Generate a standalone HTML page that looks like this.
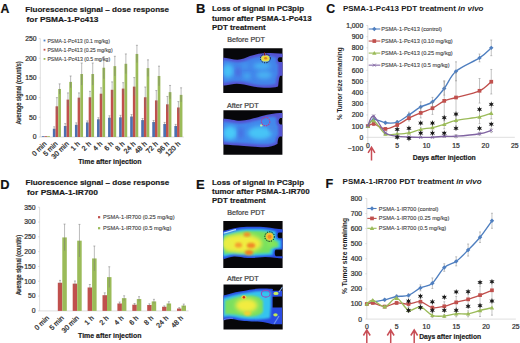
<!DOCTYPE html>
<html><head><meta charset="utf-8"><style>
html,body{margin:0;padding:0;background:#fff;overflow:hidden;width:520px;height:343px;}
svg{display:block;font-family:"Liberation Sans", sans-serif;}
</style></head><body>
<svg width="520" height="343" viewBox="0 0 520 343">
<defs>
<filter id="b1" x="-20%" y="-20%" width="140%" height="140%"><feGaussianBlur stdDeviation="1.2"/></filter>
<filter id="b2" x="-30%" y="-30%" width="160%" height="160%"><feGaussianBlur stdDeviation="2.2"/></filter>
<filter id="b05" x="-20%" y="-20%" width="140%" height="140%"><feGaussianBlur stdDeviation="0.6"/></filter>
<clipPath id="cB1"><rect x="223.3" y="48.3" width="59.2" height="44.6"/></clipPath>
<clipPath id="cB2"><rect x="223.4" y="110.2" width="59" height="44.5"/></clipPath>
<clipPath id="cE1"><rect x="223.3" y="221.1" width="59.3" height="46.8"/></clipPath>
<clipPath id="cE2"><rect x="223.5" y="284.5" width="59.2" height="45.1"/></clipPath>
</defs>
<text x="0.4" y="12.9" font-size="12.3" font-weight="bold" fill="#111" stroke="#111" stroke-width="0.18">A</text>
<text x="25.3" y="11.6" font-size="8" font-weight="bold" textLength="143.8" lengthAdjust="spacingAndGlyphs" fill="#1a1a1a" stroke="#1a1a1a" stroke-width="0.18">Fluorescence signal – dose  response</text>
<text x="26.5" y="21.5" font-size="8" font-weight="bold" textLength="72" lengthAdjust="spacingAndGlyphs" fill="#1a1a1a" stroke="#1a1a1a" stroke-width="0.18">for PSMA-1-Pc413</text>
<line x1="40.3" y1="38.599999999999994" x2="40.3" y2="137.0" stroke="#c8c8c8" stroke-width="0.6"/>
<line x1="40.3" y1="137.0" x2="183.9" y2="137.0" stroke="#c8c8c8" stroke-width="0.6"/>
<text x="36.6" y="139.4" font-size="6.8" text-anchor="end" fill="#333" stroke="#333" stroke-width="0.24">0</text>
<line x1="38.8" y1="137.0" x2="40.3" y2="137.0" stroke="#c8c8c8" stroke-width="0.6"/>
<text x="36.6" y="119.72" font-size="6.8" text-anchor="end" fill="#333" stroke="#333" stroke-width="0.24">50</text>
<line x1="38.8" y1="117.32" x2="40.3" y2="117.32" stroke="#c8c8c8" stroke-width="0.6"/>
<text x="36.6" y="100.04" font-size="6.8" text-anchor="end" fill="#333" stroke="#333" stroke-width="0.24">100</text>
<line x1="38.8" y1="97.64" x2="40.3" y2="97.64" stroke="#c8c8c8" stroke-width="0.6"/>
<text x="36.6" y="80.36" font-size="6.8" text-anchor="end" fill="#333" stroke="#333" stroke-width="0.24">150</text>
<line x1="38.8" y1="77.96000000000001" x2="40.3" y2="77.96000000000001" stroke="#c8c8c8" stroke-width="0.6"/>
<text x="36.6" y="60.68" font-size="6.8" text-anchor="end" fill="#333" stroke="#333" stroke-width="0.24">200</text>
<line x1="38.8" y1="58.28" x2="40.3" y2="58.28" stroke="#c8c8c8" stroke-width="0.6"/>
<text x="36.6" y="41.0" font-size="6.8" text-anchor="end" fill="#333" stroke="#333" stroke-width="0.24">250</text>
<line x1="38.8" y1="38.599999999999994" x2="40.3" y2="38.599999999999994" stroke="#c8c8c8" stroke-width="0.6"/>
<rect x="41.80" y="136.21" width="2.7" height="0.79" fill="#4c70b0"/>
<rect x="44.50" y="136.21" width="2.7" height="0.79" fill="#c0504d"/>
<rect x="47.20" y="136.21" width="2.7" height="0.79" fill="#9bbb59"/>
<text x="46.92" y="144.30" font-size="7" fill="#333" stroke="#333" stroke-width="0.3" text-anchor="end" transform="rotate(-45 46.92 144.30)">0 min</text>
<rect x="52.85" y="128.73" width="2.7" height="8.27" fill="#4c70b0"/>
<line x1="54.20" y1="126.77" x2="54.20" y2="130.70" stroke="#777" stroke-width="0.5"/>
<line x1="53.20" y1="126.77" x2="55.20" y2="126.77" stroke="#777" stroke-width="0.5"/>
<rect x="55.55" y="106.30" width="2.7" height="30.70" fill="#c0504d"/>
<line x1="56.90" y1="97.64" x2="56.90" y2="114.96" stroke="#777" stroke-width="0.5"/>
<line x1="55.90" y1="97.64" x2="57.90" y2="97.64" stroke="#777" stroke-width="0.5"/>
<rect x="58.25" y="88.98" width="2.7" height="48.02" fill="#9bbb59"/>
<line x1="59.60" y1="83.86" x2="59.60" y2="94.10" stroke="#777" stroke-width="0.5"/>
<line x1="58.60" y1="83.86" x2="60.60" y2="83.86" stroke="#777" stroke-width="0.5"/>
<text x="58.07" y="144.30" font-size="7" fill="#333" stroke="#333" stroke-width="0.3" text-anchor="end" transform="rotate(-45 58.07 144.30)">5 min</text>
<rect x="63.89" y="125.98" width="2.7" height="11.02" fill="#4c70b0"/>
<line x1="65.24" y1="123.62" x2="65.24" y2="128.34" stroke="#777" stroke-width="0.5"/>
<line x1="64.24" y1="123.62" x2="66.24" y2="123.62" stroke="#777" stroke-width="0.5"/>
<rect x="66.59" y="99.61" width="2.7" height="37.39" fill="#c0504d"/>
<line x1="67.94" y1="92.92" x2="67.94" y2="106.30" stroke="#777" stroke-width="0.5"/>
<line x1="66.94" y1="92.92" x2="68.94" y2="92.92" stroke="#777" stroke-width="0.5"/>
<rect x="69.29" y="81.90" width="2.7" height="55.10" fill="#9bbb59"/>
<line x1="70.64" y1="75.99" x2="70.64" y2="87.80" stroke="#777" stroke-width="0.5"/>
<line x1="69.64" y1="75.99" x2="71.64" y2="75.99" stroke="#777" stroke-width="0.5"/>
<text x="69.22" y="144.30" font-size="7" fill="#333" stroke="#333" stroke-width="0.3" text-anchor="end" transform="rotate(-45 69.22 144.30)">30 min</text>
<rect x="74.94" y="124.80" width="2.7" height="12.20" fill="#4c70b0"/>
<line x1="76.29" y1="122.83" x2="76.29" y2="126.77" stroke="#777" stroke-width="0.5"/>
<line x1="75.29" y1="122.83" x2="77.29" y2="122.83" stroke="#777" stroke-width="0.5"/>
<rect x="77.64" y="97.64" width="2.7" height="39.36" fill="#c0504d"/>
<line x1="78.99" y1="92.92" x2="78.99" y2="102.36" stroke="#777" stroke-width="0.5"/>
<line x1="77.99" y1="92.92" x2="79.99" y2="92.92" stroke="#777" stroke-width="0.5"/>
<rect x="80.34" y="74.02" width="2.7" height="62.98" fill="#9bbb59"/>
<line x1="81.69" y1="63.00" x2="81.69" y2="85.04" stroke="#777" stroke-width="0.5"/>
<line x1="80.69" y1="63.00" x2="82.69" y2="63.00" stroke="#777" stroke-width="0.5"/>
<text x="80.36" y="144.30" font-size="7" fill="#333" stroke="#333" stroke-width="0.3" text-anchor="end" transform="rotate(-45 80.36 144.30)">1 h</text>
<rect x="85.98" y="122.44" width="2.7" height="14.56" fill="#4c70b0"/>
<line x1="87.33" y1="120.86" x2="87.33" y2="124.01" stroke="#777" stroke-width="0.5"/>
<line x1="86.33" y1="120.86" x2="88.33" y2="120.86" stroke="#777" stroke-width="0.5"/>
<rect x="88.68" y="97.25" width="2.7" height="39.75" fill="#c0504d"/>
<line x1="90.03" y1="91.34" x2="90.03" y2="103.15" stroke="#777" stroke-width="0.5"/>
<line x1="89.03" y1="91.34" x2="91.03" y2="91.34" stroke="#777" stroke-width="0.5"/>
<rect x="91.38" y="74.02" width="2.7" height="62.98" fill="#9bbb59"/>
<line x1="92.73" y1="63.00" x2="92.73" y2="85.04" stroke="#777" stroke-width="0.5"/>
<line x1="91.73" y1="63.00" x2="93.73" y2="63.00" stroke="#777" stroke-width="0.5"/>
<text x="91.51" y="144.30" font-size="7" fill="#333" stroke="#333" stroke-width="0.3" text-anchor="end" transform="rotate(-45 91.51 144.30)">2 h</text>
<rect x="97.03" y="119.29" width="2.7" height="17.71" fill="#4c70b0"/>
<line x1="98.38" y1="117.71" x2="98.38" y2="120.86" stroke="#777" stroke-width="0.5"/>
<line x1="97.38" y1="117.71" x2="99.38" y2="117.71" stroke="#777" stroke-width="0.5"/>
<rect x="99.73" y="93.70" width="2.7" height="43.30" fill="#c0504d"/>
<line x1="101.08" y1="87.80" x2="101.08" y2="99.61" stroke="#777" stroke-width="0.5"/>
<line x1="100.08" y1="87.80" x2="102.08" y2="87.80" stroke="#777" stroke-width="0.5"/>
<rect x="102.43" y="67.73" width="2.7" height="69.27" fill="#9bbb59"/>
<line x1="103.78" y1="56.71" x2="103.78" y2="78.75" stroke="#777" stroke-width="0.5"/>
<line x1="102.78" y1="56.71" x2="104.78" y2="56.71" stroke="#777" stroke-width="0.5"/>
<text x="102.65" y="144.30" font-size="7" fill="#333" stroke="#333" stroke-width="0.3" text-anchor="end" transform="rotate(-45 102.65 144.30)">4 h</text>
<rect x="108.08" y="117.71" width="2.7" height="19.29" fill="#4c70b0"/>
<line x1="109.43" y1="115.75" x2="109.43" y2="119.68" stroke="#777" stroke-width="0.5"/>
<line x1="108.43" y1="115.75" x2="110.43" y2="115.75" stroke="#777" stroke-width="0.5"/>
<rect x="110.78" y="89.77" width="2.7" height="47.23" fill="#c0504d"/>
<line x1="112.13" y1="81.90" x2="112.13" y2="97.64" stroke="#777" stroke-width="0.5"/>
<line x1="111.13" y1="81.90" x2="113.13" y2="81.90" stroke="#777" stroke-width="0.5"/>
<rect x="113.48" y="66.15" width="2.7" height="70.85" fill="#9bbb59"/>
<line x1="114.83" y1="56.31" x2="114.83" y2="75.99" stroke="#777" stroke-width="0.5"/>
<line x1="113.83" y1="56.31" x2="115.83" y2="56.31" stroke="#777" stroke-width="0.5"/>
<text x="113.80" y="144.30" font-size="7" fill="#333" stroke="#333" stroke-width="0.3" text-anchor="end" transform="rotate(-45 113.80 144.30)">6 h</text>
<rect x="119.12" y="117.32" width="2.7" height="19.68" fill="#4c70b0"/>
<line x1="120.47" y1="115.35" x2="120.47" y2="119.29" stroke="#777" stroke-width="0.5"/>
<line x1="119.47" y1="115.35" x2="121.47" y2="115.35" stroke="#777" stroke-width="0.5"/>
<rect x="121.82" y="88.59" width="2.7" height="48.41" fill="#c0504d"/>
<line x1="123.17" y1="82.68" x2="123.17" y2="94.49" stroke="#777" stroke-width="0.5"/>
<line x1="122.17" y1="82.68" x2="124.17" y2="82.68" stroke="#777" stroke-width="0.5"/>
<rect x="124.52" y="63.79" width="2.7" height="73.21" fill="#9bbb59"/>
<line x1="125.87" y1="53.95" x2="125.87" y2="73.63" stroke="#777" stroke-width="0.5"/>
<line x1="124.87" y1="53.95" x2="126.87" y2="53.95" stroke="#777" stroke-width="0.5"/>
<text x="124.95" y="144.30" font-size="7" fill="#333" stroke="#333" stroke-width="0.3" text-anchor="end" transform="rotate(-45 124.95 144.30)">8 h</text>
<rect x="130.17" y="116.53" width="2.7" height="20.47" fill="#4c70b0"/>
<line x1="131.52" y1="114.56" x2="131.52" y2="118.50" stroke="#777" stroke-width="0.5"/>
<line x1="130.52" y1="114.56" x2="132.52" y2="114.56" stroke="#777" stroke-width="0.5"/>
<rect x="132.87" y="86.62" width="2.7" height="50.38" fill="#c0504d"/>
<line x1="134.22" y1="77.57" x2="134.22" y2="95.67" stroke="#777" stroke-width="0.5"/>
<line x1="133.22" y1="77.57" x2="135.22" y2="77.57" stroke="#777" stroke-width="0.5"/>
<rect x="135.57" y="53.95" width="2.7" height="83.05" fill="#9bbb59"/>
<line x1="136.92" y1="45.29" x2="136.92" y2="62.61" stroke="#777" stroke-width="0.5"/>
<line x1="135.92" y1="45.29" x2="137.92" y2="45.29" stroke="#777" stroke-width="0.5"/>
<text x="136.09" y="144.30" font-size="7" fill="#333" stroke="#333" stroke-width="0.3" text-anchor="end" transform="rotate(-45 136.09 144.30)">24 h</text>
<rect x="141.22" y="120.08" width="2.7" height="16.92" fill="#4c70b0"/>
<line x1="142.57" y1="118.50" x2="142.57" y2="121.65" stroke="#777" stroke-width="0.5"/>
<line x1="141.57" y1="118.50" x2="143.57" y2="118.50" stroke="#777" stroke-width="0.5"/>
<rect x="143.92" y="97.25" width="2.7" height="39.75" fill="#c0504d"/>
<line x1="145.27" y1="87.01" x2="145.27" y2="107.48" stroke="#777" stroke-width="0.5"/>
<line x1="144.27" y1="87.01" x2="146.27" y2="87.01" stroke="#777" stroke-width="0.5"/>
<rect x="146.62" y="68.12" width="2.7" height="68.88" fill="#9bbb59"/>
<line x1="147.97" y1="59.85" x2="147.97" y2="76.39" stroke="#777" stroke-width="0.5"/>
<line x1="146.97" y1="59.85" x2="148.97" y2="59.85" stroke="#777" stroke-width="0.5"/>
<text x="147.24" y="144.30" font-size="7" fill="#333" stroke="#333" stroke-width="0.3" text-anchor="end" transform="rotate(-45 147.24 144.30)">48 h</text>
<rect x="152.26" y="122.04" width="2.7" height="14.96" fill="#4c70b0"/>
<line x1="153.61" y1="120.47" x2="153.61" y2="123.62" stroke="#777" stroke-width="0.5"/>
<line x1="152.61" y1="120.47" x2="154.61" y2="120.47" stroke="#777" stroke-width="0.5"/>
<rect x="154.96" y="100.40" width="2.7" height="36.60" fill="#c0504d"/>
<line x1="156.31" y1="90.56" x2="156.31" y2="110.24" stroke="#777" stroke-width="0.5"/>
<line x1="155.31" y1="90.56" x2="157.31" y2="90.56" stroke="#777" stroke-width="0.5"/>
<rect x="157.66" y="75.99" width="2.7" height="61.01" fill="#9bbb59"/>
<line x1="159.01" y1="66.15" x2="159.01" y2="85.83" stroke="#777" stroke-width="0.5"/>
<line x1="158.01" y1="66.15" x2="160.01" y2="66.15" stroke="#777" stroke-width="0.5"/>
<text x="158.38" y="144.30" font-size="7" fill="#333" stroke="#333" stroke-width="0.3" text-anchor="end" transform="rotate(-45 158.38 144.30)">72 h</text>
<rect x="163.31" y="124.01" width="2.7" height="12.99" fill="#4c70b0"/>
<line x1="164.66" y1="122.44" x2="164.66" y2="125.59" stroke="#777" stroke-width="0.5"/>
<line x1="163.66" y1="122.44" x2="165.66" y2="122.44" stroke="#777" stroke-width="0.5"/>
<rect x="166.01" y="104.33" width="2.7" height="32.67" fill="#c0504d"/>
<line x1="167.36" y1="96.46" x2="167.36" y2="112.20" stroke="#777" stroke-width="0.5"/>
<line x1="166.36" y1="96.46" x2="168.36" y2="96.46" stroke="#777" stroke-width="0.5"/>
<rect x="168.71" y="92.13" width="2.7" height="44.87" fill="#9bbb59"/>
<line x1="170.06" y1="85.44" x2="170.06" y2="98.82" stroke="#777" stroke-width="0.5"/>
<line x1="169.06" y1="85.44" x2="171.06" y2="85.44" stroke="#777" stroke-width="0.5"/>
<text x="169.53" y="144.30" font-size="7" fill="#333" stroke="#333" stroke-width="0.3" text-anchor="end" transform="rotate(-45 169.53 144.30)">96 h</text>
<rect x="174.35" y="125.98" width="2.7" height="11.02" fill="#4c70b0"/>
<line x1="175.70" y1="124.40" x2="175.70" y2="127.55" stroke="#777" stroke-width="0.5"/>
<line x1="174.70" y1="124.40" x2="176.70" y2="124.40" stroke="#777" stroke-width="0.5"/>
<rect x="177.05" y="107.48" width="2.7" height="29.52" fill="#c0504d"/>
<line x1="178.40" y1="101.58" x2="178.40" y2="113.38" stroke="#777" stroke-width="0.5"/>
<line x1="177.40" y1="101.58" x2="179.40" y2="101.58" stroke="#777" stroke-width="0.5"/>
<rect x="179.75" y="94.88" width="2.7" height="42.12" fill="#9bbb59"/>
<line x1="181.10" y1="87.80" x2="181.10" y2="101.97" stroke="#777" stroke-width="0.5"/>
<line x1="180.10" y1="87.80" x2="182.10" y2="87.80" stroke="#777" stroke-width="0.5"/>
<text x="180.68" y="144.30" font-size="7" fill="#333" stroke="#333" stroke-width="0.3" text-anchor="end" transform="rotate(-45 180.68 144.30)">120 h</text>
<text x="0" y="0" font-size="6.3" fill="#333" stroke="#333" stroke-width="0.3" textLength="62.8" lengthAdjust="spacingAndGlyphs" text-anchor="middle" transform="translate(21.0 92.8) rotate(-90)">Average signal (count/s)</text>
<text x="78.2" y="163.5" font-size="6.9" font-weight="bold" textLength="63.4" lengthAdjust="spacingAndGlyphs" fill="#1a1a1a" stroke="#1a1a1a" stroke-width="0.18">Time after injection</text>
<rect x="43.6" y="39.6" width="1.8" height="1.8" fill="#4f7fc0"/>
<text x="47.4" y="42.5" font-size="5.4" textLength="62.5" lengthAdjust="spacingAndGlyphs" fill="#444" stroke="#444" stroke-width="0.12">PSMA-1-Pc413 (0.1 mg/kg)</text>
<rect x="43.6" y="48.800000000000004" width="1.8" height="1.8" fill="#c0504d"/>
<text x="47.4" y="51.7" font-size="5.4" textLength="65.2" lengthAdjust="spacingAndGlyphs" fill="#444" stroke="#444" stroke-width="0.12">PSMA-1-Pc413 (0.25 mg/kg)</text>
<rect x="43.6" y="58.0" width="1.8" height="1.8" fill="#9bbb59"/>
<text x="47.4" y="60.9" font-size="5.4" textLength="62.8" lengthAdjust="spacingAndGlyphs" fill="#444" stroke="#444" stroke-width="0.12">PSMA-1-Pc413 (0.5 mg/kg)</text>
<text x="0.3" y="188.5" font-size="12.8" font-weight="bold" fill="#111" stroke="#111" stroke-width="0.18">D</text>
<text x="25.5" y="184.7" font-size="8" font-weight="bold" textLength="143.8" lengthAdjust="spacingAndGlyphs" fill="#1a1a1a" stroke="#1a1a1a" stroke-width="0.18">Fluorescence signal – dose  response</text>
<text x="27.0" y="194.6" font-size="8" font-weight="bold" textLength="71" lengthAdjust="spacingAndGlyphs" fill="#1a1a1a" stroke="#1a1a1a" stroke-width="0.18">for PSMA-1-IR700</text>
<line x1="39.6" y1="207.195" x2="39.6" y2="310.9" stroke="#c8c8c8" stroke-width="0.6"/>
<line x1="39.6" y1="310.9" x2="188.6" y2="310.9" stroke="#c8c8c8" stroke-width="0.6"/>
<text x="35.6" y="313.3" font-size="6.8" text-anchor="end" fill="#333" stroke="#333" stroke-width="0.24">0</text>
<line x1="38.1" y1="310.9" x2="39.6" y2="310.9" stroke="#c8c8c8" stroke-width="0.6"/>
<text x="35.6" y="298.48" font-size="6.8" text-anchor="end" fill="#333" stroke="#333" stroke-width="0.24">50</text>
<line x1="38.1" y1="296.085" x2="39.6" y2="296.085" stroke="#c8c8c8" stroke-width="0.6"/>
<text x="35.6" y="283.67" font-size="6.8" text-anchor="end" fill="#333" stroke="#333" stroke-width="0.24">100</text>
<line x1="38.1" y1="281.27" x2="39.6" y2="281.27" stroke="#c8c8c8" stroke-width="0.6"/>
<text x="35.6" y="268.85" font-size="6.8" text-anchor="end" fill="#333" stroke="#333" stroke-width="0.24">150</text>
<line x1="38.1" y1="266.455" x2="39.6" y2="266.455" stroke="#c8c8c8" stroke-width="0.6"/>
<text x="35.6" y="254.04" font-size="6.8" text-anchor="end" fill="#333" stroke="#333" stroke-width="0.24">200</text>
<line x1="38.1" y1="251.64" x2="39.6" y2="251.64" stroke="#c8c8c8" stroke-width="0.6"/>
<text x="35.6" y="239.22" font-size="6.8" text-anchor="end" fill="#333" stroke="#333" stroke-width="0.24">250</text>
<line x1="38.1" y1="236.825" x2="39.6" y2="236.825" stroke="#c8c8c8" stroke-width="0.6"/>
<text x="35.6" y="224.41" font-size="6.8" text-anchor="end" fill="#333" stroke="#333" stroke-width="0.24">300</text>
<line x1="38.1" y1="222.01" x2="39.6" y2="222.01" stroke="#c8c8c8" stroke-width="0.6"/>
<text x="35.6" y="209.59" font-size="6.8" text-anchor="end" fill="#333" stroke="#333" stroke-width="0.24">350</text>
<line x1="38.1" y1="207.195" x2="39.6" y2="207.195" stroke="#c8c8c8" stroke-width="0.6"/>
<rect x="42.90" y="310.90" width="4.5" height="0.00" fill="#c0504d"/>
<rect x="47.40" y="310.90" width="4.5" height="0.00" fill="#9bbb59"/>
<text x="49.45" y="318.50" font-size="7" fill="#333" stroke="#333" stroke-width="0.3" text-anchor="end" transform="rotate(-45 49.45 318.50)">0 min</text>
<rect x="57.80" y="282.75" width="4.5" height="28.15" fill="#c0504d"/>
<line x1="60.05" y1="280.38" x2="60.05" y2="285.12" stroke="#777" stroke-width="0.5"/>
<line x1="59.05" y1="280.38" x2="61.05" y2="280.38" stroke="#777" stroke-width="0.5"/>
<rect x="62.30" y="237.42" width="4.5" height="73.48" fill="#9bbb59"/>
<line x1="64.55" y1="224.08" x2="64.55" y2="250.75" stroke="#777" stroke-width="0.5"/>
<line x1="63.55" y1="224.08" x2="65.55" y2="224.08" stroke="#777" stroke-width="0.5"/>
<text x="64.35" y="318.50" font-size="7" fill="#333" stroke="#333" stroke-width="0.3" text-anchor="end" transform="rotate(-45 64.35 318.50)">5 min</text>
<rect x="72.70" y="283.64" width="4.5" height="27.26" fill="#c0504d"/>
<line x1="74.95" y1="280.97" x2="74.95" y2="286.31" stroke="#777" stroke-width="0.5"/>
<line x1="73.95" y1="280.97" x2="75.95" y2="280.97" stroke="#777" stroke-width="0.5"/>
<rect x="77.20" y="240.68" width="4.5" height="70.22" fill="#9bbb59"/>
<line x1="79.45" y1="224.38" x2="79.45" y2="256.97" stroke="#777" stroke-width="0.5"/>
<line x1="78.45" y1="224.38" x2="80.45" y2="224.38" stroke="#777" stroke-width="0.5"/>
<text x="79.25" y="318.50" font-size="7" fill="#333" stroke="#333" stroke-width="0.3" text-anchor="end" transform="rotate(-45 79.25 318.50)">30 min</text>
<rect x="87.60" y="287.49" width="4.5" height="23.41" fill="#c0504d"/>
<line x1="89.85" y1="284.53" x2="89.85" y2="290.46" stroke="#777" stroke-width="0.5"/>
<line x1="88.85" y1="284.53" x2="90.85" y2="284.53" stroke="#777" stroke-width="0.5"/>
<rect x="92.10" y="258.45" width="4.5" height="52.45" fill="#9bbb59"/>
<line x1="94.35" y1="246.01" x2="94.35" y2="270.90" stroke="#777" stroke-width="0.5"/>
<line x1="93.35" y1="246.01" x2="95.35" y2="246.01" stroke="#777" stroke-width="0.5"/>
<text x="94.15" y="318.50" font-size="7" fill="#333" stroke="#333" stroke-width="0.3" text-anchor="end" transform="rotate(-45 94.15 318.50)">1 h</text>
<rect x="102.50" y="295.20" width="4.5" height="15.70" fill="#c0504d"/>
<line x1="104.75" y1="292.83" x2="104.75" y2="297.57" stroke="#777" stroke-width="0.5"/>
<line x1="103.75" y1="292.83" x2="105.75" y2="292.83" stroke="#777" stroke-width="0.5"/>
<rect x="107.00" y="277.12" width="4.5" height="33.78" fill="#9bbb59"/>
<line x1="109.25" y1="266.75" x2="109.25" y2="287.49" stroke="#777" stroke-width="0.5"/>
<line x1="108.25" y1="266.75" x2="110.25" y2="266.75" stroke="#777" stroke-width="0.5"/>
<text x="109.05" y="318.50" font-size="7" fill="#333" stroke="#333" stroke-width="0.3" text-anchor="end" transform="rotate(-45 109.05 318.50)">2 h</text>
<rect x="117.40" y="303.49" width="4.5" height="7.41" fill="#c0504d"/>
<line x1="119.65" y1="302.01" x2="119.65" y2="304.97" stroke="#777" stroke-width="0.5"/>
<line x1="118.65" y1="302.01" x2="120.65" y2="302.01" stroke="#777" stroke-width="0.5"/>
<rect x="121.90" y="298.16" width="4.5" height="12.74" fill="#9bbb59"/>
<line x1="124.15" y1="295.79" x2="124.15" y2="300.53" stroke="#777" stroke-width="0.5"/>
<line x1="123.15" y1="295.79" x2="125.15" y2="295.79" stroke="#777" stroke-width="0.5"/>
<text x="123.95" y="318.50" font-size="7" fill="#333" stroke="#333" stroke-width="0.3" text-anchor="end" transform="rotate(-45 123.95 318.50)">4 h</text>
<rect x="132.30" y="304.68" width="4.5" height="6.22" fill="#c0504d"/>
<line x1="134.55" y1="303.49" x2="134.55" y2="305.86" stroke="#777" stroke-width="0.5"/>
<line x1="133.55" y1="303.49" x2="135.55" y2="303.49" stroke="#777" stroke-width="0.5"/>
<rect x="136.80" y="299.05" width="4.5" height="11.85" fill="#9bbb59"/>
<line x1="139.05" y1="296.68" x2="139.05" y2="301.42" stroke="#777" stroke-width="0.5"/>
<line x1="138.05" y1="296.68" x2="140.05" y2="296.68" stroke="#777" stroke-width="0.5"/>
<text x="138.85" y="318.50" font-size="7" fill="#333" stroke="#333" stroke-width="0.3" text-anchor="end" transform="rotate(-45 138.85 318.50)">6 h</text>
<rect x="147.20" y="304.97" width="4.5" height="5.93" fill="#c0504d"/>
<line x1="149.45" y1="303.79" x2="149.45" y2="306.16" stroke="#777" stroke-width="0.5"/>
<line x1="148.45" y1="303.79" x2="150.45" y2="303.79" stroke="#777" stroke-width="0.5"/>
<rect x="151.70" y="301.42" width="4.5" height="9.48" fill="#9bbb59"/>
<line x1="153.95" y1="299.34" x2="153.95" y2="303.49" stroke="#777" stroke-width="0.5"/>
<line x1="152.95" y1="299.34" x2="154.95" y2="299.34" stroke="#777" stroke-width="0.5"/>
<text x="153.75" y="318.50" font-size="7" fill="#333" stroke="#333" stroke-width="0.3" text-anchor="end" transform="rotate(-45 153.75 318.50)">8 h</text>
<rect x="162.10" y="306.75" width="4.5" height="4.15" fill="#c0504d"/>
<line x1="164.35" y1="305.86" x2="164.35" y2="307.64" stroke="#777" stroke-width="0.5"/>
<line x1="163.35" y1="305.86" x2="165.35" y2="305.86" stroke="#777" stroke-width="0.5"/>
<rect x="166.60" y="303.49" width="4.5" height="7.41" fill="#9bbb59"/>
<line x1="168.85" y1="301.71" x2="168.85" y2="305.27" stroke="#777" stroke-width="0.5"/>
<line x1="167.85" y1="301.71" x2="169.85" y2="301.71" stroke="#777" stroke-width="0.5"/>
<text x="168.65" y="318.50" font-size="7" fill="#333" stroke="#333" stroke-width="0.3" text-anchor="end" transform="rotate(-45 168.65 318.50)">24 h</text>
<rect x="177.00" y="308.53" width="4.5" height="2.37" fill="#c0504d"/>
<line x1="179.25" y1="307.64" x2="179.25" y2="309.42" stroke="#777" stroke-width="0.5"/>
<line x1="178.25" y1="307.64" x2="180.25" y2="307.64" stroke="#777" stroke-width="0.5"/>
<rect x="181.50" y="305.57" width="4.5" height="5.33" fill="#9bbb59"/>
<line x1="183.75" y1="304.09" x2="183.75" y2="307.05" stroke="#777" stroke-width="0.5"/>
<line x1="182.75" y1="304.09" x2="184.75" y2="304.09" stroke="#777" stroke-width="0.5"/>
<text x="183.55" y="318.50" font-size="7" fill="#333" stroke="#333" stroke-width="0.3" text-anchor="end" transform="rotate(-45 183.55 318.50)">48 h</text>
<text x="0" y="0" font-size="6.3" fill="#333" stroke="#333" stroke-width="0.3" textLength="60" lengthAdjust="spacingAndGlyphs" text-anchor="middle" transform="translate(21.0 265) rotate(-90)">Average signal (count/s)</text>
<text x="78.1" y="337.7" font-size="6.9" font-weight="bold" textLength="63.4" lengthAdjust="spacingAndGlyphs" fill="#1a1a1a" stroke="#1a1a1a" stroke-width="0.18">Time after injection</text>
<rect x="98.0" y="216.1" width="2.2" height="2.2" fill="#c0504d"/>
<text x="103.0" y="219.2" font-size="5.7" textLength="71.6" lengthAdjust="spacingAndGlyphs" fill="#444" stroke="#444" stroke-width="0.12">PSMA-1-IR700 (0.25 mg/kg)</text>
<rect x="98.0" y="227.1" width="2.2" height="2.2" fill="#9bbb59"/>
<text x="103.0" y="230.2" font-size="5.7" textLength="68.4" lengthAdjust="spacingAndGlyphs" fill="#444" stroke="#444" stroke-width="0.12">PSMA-1-IR700 (0.5 mg/kg)</text>
<text x="326.2" y="12.8" font-size="12.3" font-weight="bold" fill="#111" stroke="#111" stroke-width="0.18">C</text>
<text x="342.9" y="11.4" font-size="8" font-weight="bold" fill="#1a1a1a" textLength="140.6" lengthAdjust="spacingAndGlyphs">PSMA-1-Pc413 PDT treatment <tspan font-style="italic">in vivo</tspan></text>
<line x1="367.8" y1="25.500000000000014" x2="367.8" y2="148.48000000000002" stroke="#c8c8c8" stroke-width="0.6"/>
<line x1="367.8" y1="137.3" x2="514.8" y2="137.3" stroke="#c8c8c8" stroke-width="0.6"/>
<text x="363.2" y="150.88" font-size="6.8" text-anchor="end" fill="#333" stroke="#333" stroke-width="0.24">−100</text>
<line x1="366.3" y1="148.48000000000002" x2="367.8" y2="148.48000000000002" stroke="#c8c8c8" stroke-width="0.6"/>
<text x="363.2" y="139.7" font-size="6.8" text-anchor="end" fill="#333" stroke="#333" stroke-width="0.24">0</text>
<line x1="366.3" y1="137.3" x2="367.8" y2="137.3" stroke="#c8c8c8" stroke-width="0.6"/>
<text x="363.2" y="128.52" font-size="6.8" text-anchor="end" fill="#333" stroke="#333" stroke-width="0.24">100</text>
<line x1="366.3" y1="126.12" x2="367.8" y2="126.12" stroke="#c8c8c8" stroke-width="0.6"/>
<text x="363.2" y="117.34" font-size="6.8" text-anchor="end" fill="#333" stroke="#333" stroke-width="0.24">200</text>
<line x1="366.3" y1="114.94000000000001" x2="367.8" y2="114.94000000000001" stroke="#c8c8c8" stroke-width="0.6"/>
<text x="363.2" y="106.16" font-size="6.8" text-anchor="end" fill="#333" stroke="#333" stroke-width="0.24">300</text>
<line x1="366.3" y1="103.76000000000002" x2="367.8" y2="103.76000000000002" stroke="#c8c8c8" stroke-width="0.6"/>
<text x="363.2" y="94.98" font-size="6.8" text-anchor="end" fill="#333" stroke="#333" stroke-width="0.24">400</text>
<line x1="366.3" y1="92.58000000000001" x2="367.8" y2="92.58000000000001" stroke="#c8c8c8" stroke-width="0.6"/>
<text x="363.2" y="83.8" font-size="6.8" text-anchor="end" fill="#333" stroke="#333" stroke-width="0.24">500</text>
<line x1="366.3" y1="81.4" x2="367.8" y2="81.4" stroke="#c8c8c8" stroke-width="0.6"/>
<text x="363.2" y="72.62" font-size="6.8" text-anchor="end" fill="#333" stroke="#333" stroke-width="0.24">600</text>
<line x1="366.3" y1="70.22000000000001" x2="367.8" y2="70.22000000000001" stroke="#c8c8c8" stroke-width="0.6"/>
<text x="363.2" y="61.44" font-size="6.8" text-anchor="end" fill="#333" stroke="#333" stroke-width="0.24">700</text>
<line x1="366.3" y1="59.04000000000002" x2="367.8" y2="59.04000000000002" stroke="#c8c8c8" stroke-width="0.6"/>
<text x="363.2" y="50.26" font-size="6.8" text-anchor="end" fill="#333" stroke="#333" stroke-width="0.24">800</text>
<line x1="366.3" y1="47.860000000000014" x2="367.8" y2="47.860000000000014" stroke="#c8c8c8" stroke-width="0.6"/>
<text x="363.2" y="39.08" font-size="6.8" text-anchor="end" fill="#333" stroke="#333" stroke-width="0.24">900</text>
<line x1="366.3" y1="36.68000000000002" x2="367.8" y2="36.68000000000002" stroke="#c8c8c8" stroke-width="0.6"/>
<text x="363.2" y="27.9" font-size="6.8" text-anchor="end" fill="#333" stroke="#333" stroke-width="0.24">1,000</text>
<line x1="366.3" y1="25.500000000000014" x2="367.8" y2="25.500000000000014" stroke="#c8c8c8" stroke-width="0.6"/>
<line x1="373.68" y1="117.18" x2="373.68" y2="121.65" stroke="#888" stroke-width="0.5"/>
<line x1="372.68" y1="117.18" x2="374.68" y2="117.18" stroke="#888" stroke-width="0.5"/>
<line x1="372.68" y1="121.65" x2="374.68" y2="121.65" stroke="#888" stroke-width="0.5"/>
<line x1="385.44" y1="121.65" x2="385.44" y2="123.88" stroke="#888" stroke-width="0.5"/>
<line x1="384.44" y1="121.65" x2="386.44" y2="121.65" stroke="#888" stroke-width="0.5"/>
<line x1="384.44" y1="123.88" x2="386.44" y2="123.88" stroke="#888" stroke-width="0.5"/>
<line x1="397.20" y1="120.53" x2="397.20" y2="123.88" stroke="#888" stroke-width="0.5"/>
<line x1="396.20" y1="120.53" x2="398.20" y2="120.53" stroke="#888" stroke-width="0.5"/>
<line x1="396.20" y1="123.88" x2="398.20" y2="123.88" stroke="#888" stroke-width="0.5"/>
<line x1="408.96" y1="112.15" x2="408.96" y2="117.74" stroke="#888" stroke-width="0.5"/>
<line x1="407.96" y1="112.15" x2="409.96" y2="112.15" stroke="#888" stroke-width="0.5"/>
<line x1="407.96" y1="117.74" x2="409.96" y2="117.74" stroke="#888" stroke-width="0.5"/>
<line x1="420.72" y1="101.86" x2="420.72" y2="111.92" stroke="#888" stroke-width="0.5"/>
<line x1="419.72" y1="101.86" x2="421.72" y2="101.86" stroke="#888" stroke-width="0.5"/>
<line x1="419.72" y1="111.92" x2="421.72" y2="111.92" stroke="#888" stroke-width="0.5"/>
<line x1="432.48" y1="97.39" x2="432.48" y2="106.33" stroke="#888" stroke-width="0.5"/>
<line x1="431.48" y1="97.39" x2="433.48" y2="97.39" stroke="#888" stroke-width="0.5"/>
<line x1="431.48" y1="106.33" x2="433.48" y2="106.33" stroke="#888" stroke-width="0.5"/>
<line x1="444.24" y1="81.74" x2="444.24" y2="95.15" stroke="#888" stroke-width="0.5"/>
<line x1="443.24" y1="81.74" x2="445.24" y2="81.74" stroke="#888" stroke-width="0.5"/>
<line x1="443.24" y1="95.15" x2="445.24" y2="95.15" stroke="#888" stroke-width="0.5"/>
<line x1="456.00" y1="61.84" x2="456.00" y2="80.84" stroke="#888" stroke-width="0.5"/>
<line x1="455.00" y1="61.84" x2="457.00" y2="61.84" stroke="#888" stroke-width="0.5"/>
<line x1="455.00" y1="80.84" x2="457.00" y2="80.84" stroke="#888" stroke-width="0.5"/>
<line x1="479.52" y1="54.01" x2="479.52" y2="61.84" stroke="#888" stroke-width="0.5"/>
<line x1="478.52" y1="54.01" x2="480.52" y2="54.01" stroke="#888" stroke-width="0.5"/>
<line x1="478.52" y1="61.84" x2="480.52" y2="61.84" stroke="#888" stroke-width="0.5"/>
<line x1="491.28" y1="40.03" x2="491.28" y2="55.69" stroke="#888" stroke-width="0.5"/>
<line x1="490.28" y1="40.03" x2="492.28" y2="40.03" stroke="#888" stroke-width="0.5"/>
<line x1="490.28" y1="55.69" x2="492.28" y2="55.69" stroke="#888" stroke-width="0.5"/>
<path d="M367.80 126.12C368.78 125.00 370.74 119.97 373.68 119.41C376.62 118.85 381.52 122.30 385.44 122.77C389.36 123.23 393.28 123.51 397.20 122.21C401.12 120.90 405.04 117.49 408.96 114.94C412.88 112.39 416.80 109.07 420.72 106.89C424.64 104.71 428.56 104.93 432.48 101.86C436.40 98.78 440.32 93.53 444.24 88.44C448.16 83.36 450.12 76.42 456.00 71.34C461.88 66.25 473.64 61.84 479.52 57.92C485.40 54.01 489.32 49.54 491.28 47.86" fill="none" stroke="#4f7fc0" stroke-width="1.35"/>
<path d="M367.8 123.92L370.0 126.12L367.8 128.32L365.6 126.12Z" fill="#4f7fc0"/>
<path d="M373.68 117.212L375.88 119.412L373.68 121.61200000000001L371.48 119.412Z" fill="#4f7fc0"/>
<path d="M385.44 120.56600000000002L387.64 122.76600000000002L385.44 124.96600000000002L383.24 122.76600000000002Z" fill="#4f7fc0"/>
<path d="M397.2 120.007L399.4 122.20700000000001L397.2 124.40700000000001L395.0 122.20700000000001Z" fill="#4f7fc0"/>
<path d="M408.96000000000004 112.74000000000001L411.16 114.94000000000001L408.96000000000004 117.14000000000001L406.76000000000005 114.94000000000001Z" fill="#4f7fc0"/>
<path d="M420.72 104.69040000000001L422.92 106.89040000000001L420.72 109.09040000000002L418.52000000000004 106.89040000000001Z" fill="#4f7fc0"/>
<path d="M432.48 99.65940000000002L434.68 101.85940000000002L432.48 104.05940000000002L430.28000000000003 101.85940000000002Z" fill="#4f7fc0"/>
<path d="M444.24 86.24340000000001L446.44 88.44340000000001L444.24 90.64340000000001L442.04 88.44340000000001Z" fill="#4f7fc0"/>
<path d="M456.0 69.138L458.2 71.33800000000001L456.0 73.53800000000001L453.8 71.33800000000001Z" fill="#4f7fc0"/>
<path d="M479.52 55.72200000000001L481.71999999999997 57.92200000000001L479.52 60.122000000000014L477.32 57.92200000000001Z" fill="#4f7fc0"/>
<path d="M491.28000000000003 45.66000000000001L493.48 47.860000000000014L491.28000000000003 50.06000000000002L489.08000000000004 47.860000000000014Z" fill="#4f7fc0"/>
<line x1="373.68" y1="122.21" x2="373.68" y2="125.56" stroke="#888" stroke-width="0.5"/>
<line x1="372.68" y1="122.21" x2="374.68" y2="122.21" stroke="#888" stroke-width="0.5"/>
<line x1="372.68" y1="125.56" x2="374.68" y2="125.56" stroke="#888" stroke-width="0.5"/>
<line x1="385.44" y1="127.80" x2="385.44" y2="130.03" stroke="#888" stroke-width="0.5"/>
<line x1="384.44" y1="127.80" x2="386.44" y2="127.80" stroke="#888" stroke-width="0.5"/>
<line x1="384.44" y1="130.03" x2="386.44" y2="130.03" stroke="#888" stroke-width="0.5"/>
<line x1="397.20" y1="122.77" x2="397.20" y2="127.24" stroke="#888" stroke-width="0.5"/>
<line x1="396.20" y1="122.77" x2="398.20" y2="122.77" stroke="#888" stroke-width="0.5"/>
<line x1="396.20" y1="127.24" x2="398.20" y2="127.24" stroke="#888" stroke-width="0.5"/>
<line x1="408.96" y1="115.39" x2="408.96" y2="120.98" stroke="#888" stroke-width="0.5"/>
<line x1="407.96" y1="115.39" x2="409.96" y2="115.39" stroke="#888" stroke-width="0.5"/>
<line x1="407.96" y1="120.98" x2="409.96" y2="120.98" stroke="#888" stroke-width="0.5"/>
<line x1="420.72" y1="107.90" x2="420.72" y2="117.96" stroke="#888" stroke-width="0.5"/>
<line x1="419.72" y1="107.90" x2="421.72" y2="107.90" stroke="#888" stroke-width="0.5"/>
<line x1="419.72" y1="117.96" x2="421.72" y2="117.96" stroke="#888" stroke-width="0.5"/>
<line x1="432.48" y1="102.08" x2="432.48" y2="114.38" stroke="#888" stroke-width="0.5"/>
<line x1="431.48" y1="102.08" x2="433.48" y2="102.08" stroke="#888" stroke-width="0.5"/>
<line x1="431.48" y1="114.38" x2="433.48" y2="114.38" stroke="#888" stroke-width="0.5"/>
<line x1="444.24" y1="80.73" x2="444.24" y2="120.98" stroke="#888" stroke-width="0.5"/>
<line x1="443.24" y1="80.73" x2="445.24" y2="80.73" stroke="#888" stroke-width="0.5"/>
<line x1="443.24" y1="120.98" x2="445.24" y2="120.98" stroke="#888" stroke-width="0.5"/>
<line x1="456.00" y1="72.90" x2="456.00" y2="122.10" stroke="#888" stroke-width="0.5"/>
<line x1="455.00" y1="72.90" x2="457.00" y2="72.90" stroke="#888" stroke-width="0.5"/>
<line x1="455.00" y1="122.10" x2="457.00" y2="122.10" stroke="#888" stroke-width="0.5"/>
<line x1="479.52" y1="78.49" x2="479.52" y2="103.09" stroke="#888" stroke-width="0.5"/>
<line x1="478.52" y1="78.49" x2="480.52" y2="78.49" stroke="#888" stroke-width="0.5"/>
<line x1="478.52" y1="103.09" x2="480.52" y2="103.09" stroke="#888" stroke-width="0.5"/>
<line x1="491.28" y1="69.44" x2="491.28" y2="94.03" stroke="#888" stroke-width="0.5"/>
<line x1="490.28" y1="69.44" x2="492.28" y2="69.44" stroke="#888" stroke-width="0.5"/>
<line x1="490.28" y1="94.03" x2="492.28" y2="94.03" stroke="#888" stroke-width="0.5"/>
<path d="M367.80 126.12C368.78 125.75 370.74 123.42 373.68 123.88C376.62 124.35 381.52 128.73 385.44 128.92C389.36 129.10 393.28 126.79 397.20 125.00C401.12 123.21 405.04 120.19 408.96 118.18C412.88 116.17 416.80 114.59 420.72 112.93C424.64 111.27 428.56 110.24 432.48 108.23C436.40 106.22 440.32 102.64 444.24 100.85C448.16 99.06 450.12 99.18 456.00 97.50C461.88 95.82 473.64 93.42 479.52 90.79C485.40 88.16 489.32 83.24 491.28 81.74" fill="none" stroke="#c0504d" stroke-width="1.35"/>
<rect x="365.95" y="124.27000000000001" width="3.7" height="3.7" fill="#c0504d"/>
<rect x="371.83" y="122.03400000000002" width="3.7" height="3.7" fill="#c0504d"/>
<rect x="383.59" y="127.06500000000003" width="3.7" height="3.7" fill="#c0504d"/>
<rect x="395.34999999999997" y="123.15200000000002" width="3.7" height="3.7" fill="#c0504d"/>
<rect x="407.11" y="116.33220000000001" width="3.7" height="3.7" fill="#c0504d"/>
<rect x="418.87" y="111.07760000000002" width="3.7" height="3.7" fill="#c0504d"/>
<rect x="430.63" y="106.38200000000002" width="3.7" height="3.7" fill="#c0504d"/>
<rect x="442.39" y="99.00320000000002" width="3.7" height="3.7" fill="#c0504d"/>
<rect x="454.15" y="95.64920000000002" width="3.7" height="3.7" fill="#c0504d"/>
<rect x="477.66999999999996" y="88.94120000000001" width="3.7" height="3.7" fill="#c0504d"/>
<rect x="489.43" y="79.88540000000002" width="3.7" height="3.7" fill="#c0504d"/>
<line x1="373.68" y1="118.85" x2="373.68" y2="122.21" stroke="#888" stroke-width="0.5"/>
<line x1="372.68" y1="118.85" x2="374.68" y2="118.85" stroke="#888" stroke-width="0.5"/>
<line x1="372.68" y1="122.21" x2="374.68" y2="122.21" stroke="#888" stroke-width="0.5"/>
<line x1="385.44" y1="132.83" x2="385.44" y2="135.06" stroke="#888" stroke-width="0.5"/>
<line x1="384.44" y1="132.83" x2="386.44" y2="132.83" stroke="#888" stroke-width="0.5"/>
<line x1="384.44" y1="135.06" x2="386.44" y2="135.06" stroke="#888" stroke-width="0.5"/>
<line x1="397.20" y1="132.83" x2="397.20" y2="135.06" stroke="#888" stroke-width="0.5"/>
<line x1="396.20" y1="132.83" x2="398.20" y2="132.83" stroke="#888" stroke-width="0.5"/>
<line x1="396.20" y1="135.06" x2="398.20" y2="135.06" stroke="#888" stroke-width="0.5"/>
<line x1="408.96" y1="131.71" x2="408.96" y2="133.95" stroke="#888" stroke-width="0.5"/>
<line x1="407.96" y1="131.71" x2="409.96" y2="131.71" stroke="#888" stroke-width="0.5"/>
<line x1="407.96" y1="133.95" x2="409.96" y2="133.95" stroke="#888" stroke-width="0.5"/>
<line x1="420.72" y1="127.13" x2="420.72" y2="131.60" stroke="#888" stroke-width="0.5"/>
<line x1="419.72" y1="127.13" x2="421.72" y2="127.13" stroke="#888" stroke-width="0.5"/>
<line x1="419.72" y1="131.60" x2="421.72" y2="131.60" stroke="#888" stroke-width="0.5"/>
<line x1="432.48" y1="124.78" x2="432.48" y2="130.37" stroke="#888" stroke-width="0.5"/>
<line x1="431.48" y1="124.78" x2="433.48" y2="124.78" stroke="#888" stroke-width="0.5"/>
<line x1="431.48" y1="130.37" x2="433.48" y2="130.37" stroke="#888" stroke-width="0.5"/>
<line x1="444.24" y1="119.86" x2="444.24" y2="128.80" stroke="#888" stroke-width="0.5"/>
<line x1="443.24" y1="119.86" x2="445.24" y2="119.86" stroke="#888" stroke-width="0.5"/>
<line x1="443.24" y1="128.80" x2="445.24" y2="128.80" stroke="#888" stroke-width="0.5"/>
<line x1="456.00" y1="114.72" x2="456.00" y2="125.90" stroke="#888" stroke-width="0.5"/>
<line x1="455.00" y1="114.72" x2="457.00" y2="114.72" stroke="#888" stroke-width="0.5"/>
<line x1="455.00" y1="125.90" x2="457.00" y2="125.90" stroke="#888" stroke-width="0.5"/>
<line x1="479.52" y1="110.24" x2="479.52" y2="123.66" stroke="#888" stroke-width="0.5"/>
<line x1="478.52" y1="110.24" x2="480.52" y2="110.24" stroke="#888" stroke-width="0.5"/>
<line x1="478.52" y1="123.66" x2="480.52" y2="123.66" stroke="#888" stroke-width="0.5"/>
<line x1="491.28" y1="107.67" x2="491.28" y2="118.85" stroke="#888" stroke-width="0.5"/>
<line x1="490.28" y1="107.67" x2="492.28" y2="107.67" stroke="#888" stroke-width="0.5"/>
<line x1="490.28" y1="118.85" x2="492.28" y2="118.85" stroke="#888" stroke-width="0.5"/>
<path d="M367.80 126.12C368.78 125.19 370.74 119.23 373.68 120.53C376.62 121.83 381.52 131.71 385.44 133.95C389.36 136.18 393.28 134.13 397.20 133.95C401.12 133.76 405.04 133.59 408.96 132.83C412.88 132.06 416.80 130.24 420.72 129.36C424.64 128.49 428.56 128.41 432.48 127.57C436.40 126.73 440.32 125.54 444.24 124.33C448.16 123.12 450.12 121.54 456.00 120.31C461.88 119.08 473.64 118.13 479.52 116.95C485.40 115.78 489.32 113.88 491.28 113.26" fill="none" stroke="#9bbb59" stroke-width="1.35"/>
<path d="M367.8 123.92L370.0 127.88000000000001L365.6 127.88000000000001Z" fill="#9bbb59"/>
<path d="M373.68 118.33000000000001L375.88 122.29000000000002L371.48 122.29000000000002Z" fill="#9bbb59"/>
<path d="M385.44 131.746L387.64 135.706L383.24 135.706Z" fill="#9bbb59"/>
<path d="M397.2 131.746L399.4 135.706L395.0 135.706Z" fill="#9bbb59"/>
<path d="M408.96000000000004 130.62800000000001L411.16 134.588L406.76000000000005 134.588Z" fill="#9bbb59"/>
<path d="M420.72 127.1622L422.92 131.1222L418.52000000000004 131.1222Z" fill="#9bbb59"/>
<path d="M432.48 125.3734L434.68 129.3334L430.28000000000003 129.3334Z" fill="#9bbb59"/>
<path d="M444.24 122.1312L446.44 126.09120000000001L442.04 126.09120000000001Z" fill="#9bbb59"/>
<path d="M456.0 118.10640000000001L458.2 122.06640000000002L453.8 122.06640000000002Z" fill="#9bbb59"/>
<path d="M479.52 114.75240000000001L481.71999999999997 118.71240000000002L477.32 118.71240000000002Z" fill="#9bbb59"/>
<path d="M491.28000000000003 111.063L493.48 115.02300000000001L489.08000000000004 115.02300000000001Z" fill="#9bbb59"/>
<line x1="373.68" y1="114.94" x2="373.68" y2="117.18" stroke="#888" stroke-width="0.5"/>
<line x1="372.68" y1="114.94" x2="374.68" y2="114.94" stroke="#888" stroke-width="0.5"/>
<line x1="372.68" y1="117.18" x2="374.68" y2="117.18" stroke="#888" stroke-width="0.5"/>
<line x1="385.44" y1="132.27" x2="385.44" y2="133.39" stroke="#888" stroke-width="0.5"/>
<line x1="384.44" y1="132.27" x2="386.44" y2="132.27" stroke="#888" stroke-width="0.5"/>
<line x1="384.44" y1="133.39" x2="386.44" y2="133.39" stroke="#888" stroke-width="0.5"/>
<line x1="397.20" y1="135.62" x2="397.20" y2="136.74" stroke="#888" stroke-width="0.5"/>
<line x1="396.20" y1="135.62" x2="398.20" y2="135.62" stroke="#888" stroke-width="0.5"/>
<line x1="396.20" y1="136.74" x2="398.20" y2="136.74" stroke="#888" stroke-width="0.5"/>
<line x1="408.96" y1="136.41" x2="408.96" y2="137.52" stroke="#888" stroke-width="0.5"/>
<line x1="407.96" y1="136.41" x2="409.96" y2="136.41" stroke="#888" stroke-width="0.5"/>
<line x1="407.96" y1="137.52" x2="409.96" y2="137.52" stroke="#888" stroke-width="0.5"/>
<line x1="420.72" y1="136.74" x2="420.72" y2="137.86" stroke="#888" stroke-width="0.5"/>
<line x1="419.72" y1="136.74" x2="421.72" y2="136.74" stroke="#888" stroke-width="0.5"/>
<line x1="419.72" y1="137.86" x2="421.72" y2="137.86" stroke="#888" stroke-width="0.5"/>
<line x1="432.48" y1="136.74" x2="432.48" y2="137.86" stroke="#888" stroke-width="0.5"/>
<line x1="431.48" y1="136.74" x2="433.48" y2="136.74" stroke="#888" stroke-width="0.5"/>
<line x1="431.48" y1="137.86" x2="433.48" y2="137.86" stroke="#888" stroke-width="0.5"/>
<line x1="444.24" y1="135.18" x2="444.24" y2="137.41" stroke="#888" stroke-width="0.5"/>
<line x1="443.24" y1="135.18" x2="445.24" y2="135.18" stroke="#888" stroke-width="0.5"/>
<line x1="443.24" y1="137.41" x2="445.24" y2="137.41" stroke="#888" stroke-width="0.5"/>
<line x1="456.00" y1="134.51" x2="456.00" y2="137.86" stroke="#888" stroke-width="0.5"/>
<line x1="455.00" y1="134.51" x2="457.00" y2="134.51" stroke="#888" stroke-width="0.5"/>
<line x1="455.00" y1="137.86" x2="457.00" y2="137.86" stroke="#888" stroke-width="0.5"/>
<line x1="479.52" y1="132.05" x2="479.52" y2="135.40" stroke="#888" stroke-width="0.5"/>
<line x1="478.52" y1="132.05" x2="480.52" y2="132.05" stroke="#888" stroke-width="0.5"/>
<line x1="478.52" y1="135.40" x2="480.52" y2="135.40" stroke="#888" stroke-width="0.5"/>
<line x1="491.28" y1="128.13" x2="491.28" y2="132.60" stroke="#888" stroke-width="0.5"/>
<line x1="490.28" y1="128.13" x2="492.28" y2="128.13" stroke="#888" stroke-width="0.5"/>
<line x1="490.28" y1="132.60" x2="492.28" y2="132.60" stroke="#888" stroke-width="0.5"/>
<path d="M367.80 126.12C368.78 124.44 370.74 114.94 373.68 116.06C376.62 117.18 381.52 129.47 385.44 132.83C389.36 136.18 393.28 135.49 397.20 136.18C401.12 136.87 405.04 136.78 408.96 136.96C412.88 137.15 416.80 137.24 420.72 137.30C424.64 137.36 428.56 137.47 432.48 137.30C436.40 137.13 440.32 136.48 444.24 136.29C448.16 136.11 450.12 136.61 456.00 136.18C461.88 135.75 473.64 134.69 479.52 133.72C485.40 132.75 489.32 130.93 491.28 130.37" fill="none" stroke="#8064a2" stroke-width="1.35"/>
<path d="M366.3 124.62L369.3 127.62M366.3 127.62L369.3 124.62" stroke="#8064a2" stroke-width="0.8"/>
<path d="M372.18 114.558L375.18 117.558M372.18 117.558L375.18 114.558" stroke="#8064a2" stroke-width="0.8"/>
<path d="M383.94 131.328L386.94 134.328M383.94 134.328L386.94 131.328" stroke="#8064a2" stroke-width="0.8"/>
<path d="M395.7 134.68200000000002L398.7 137.68200000000002M395.7 137.68200000000002L398.7 134.68200000000002" stroke="#8064a2" stroke-width="0.8"/>
<path d="M407.46000000000004 135.46460000000002L410.46000000000004 138.46460000000002M407.46000000000004 138.46460000000002L410.46000000000004 135.46460000000002" stroke="#8064a2" stroke-width="0.8"/>
<path d="M419.22 135.8L422.22 138.8M419.22 138.8L422.22 135.8" stroke="#8064a2" stroke-width="0.8"/>
<path d="M430.98 135.8L433.98 138.8M430.98 138.8L433.98 135.8" stroke="#8064a2" stroke-width="0.8"/>
<path d="M442.74 134.7938L445.74 137.7938M442.74 137.7938L445.74 134.7938" stroke="#8064a2" stroke-width="0.8"/>
<path d="M454.5 134.68200000000002L457.5 137.68200000000002M454.5 137.68200000000002L457.5 134.68200000000002" stroke="#8064a2" stroke-width="0.8"/>
<path d="M478.02 132.22240000000002L481.02 135.22240000000002M478.02 135.22240000000002L481.02 132.22240000000002" stroke="#8064a2" stroke-width="0.8"/>
<path d="M489.78000000000003 128.8684L492.78000000000003 131.8684M489.78000000000003 131.8684L492.78000000000003 128.8684" stroke="#8064a2" stroke-width="0.8"/>
<polygon points="397.20,126.47 396.55,128.35 394.60,127.97 395.90,129.47 394.60,130.97 396.55,130.60 397.20,132.47 397.85,130.60 399.80,130.97 398.50,129.47 399.80,127.97 397.85,128.35" fill="#1a1a1a"/>
<polygon points="397.20,134.30 396.55,136.17 394.60,135.80 395.90,137.30 394.60,138.80 396.55,138.43 397.20,140.30 397.85,138.43 399.80,138.80 398.50,137.30 399.80,135.80 397.85,136.17" fill="#1a1a1a"/>
<polygon points="408.96,125.36 408.31,127.23 406.36,126.86 407.66,128.36 406.36,129.86 408.31,129.48 408.96,131.36 409.61,129.48 411.56,129.86 410.26,128.36 411.56,126.86 409.61,127.23" fill="#1a1a1a"/>
<polygon points="408.96,135.42 408.31,137.29 406.36,136.92 407.66,138.42 406.36,139.92 408.31,139.54 408.96,141.42 409.61,139.54 411.56,139.92 410.26,138.42 411.56,136.92 409.61,137.29" fill="#1a1a1a"/>
<polygon points="420.72,120.10 420.07,121.98 418.12,121.60 419.42,123.10 418.12,124.60 420.07,124.23 420.72,126.10 421.37,124.23 423.32,124.60 422.02,123.10 423.32,121.60 421.37,121.98" fill="#1a1a1a"/>
<polygon points="420.72,130.16 420.07,132.04 418.12,131.66 419.42,133.16 418.12,134.66 420.07,134.29 420.72,136.16 421.37,134.29 423.32,134.66 422.02,133.16 423.32,131.66 421.37,132.04" fill="#1a1a1a"/>
<polygon points="432.48,120.10 431.83,121.98 429.88,121.60 431.18,123.10 429.88,124.60 431.83,124.23 432.48,126.10 433.13,124.23 435.08,124.60 433.78,123.10 435.08,121.60 433.13,121.98" fill="#1a1a1a"/>
<polygon points="432.48,130.16 431.83,132.04 429.88,131.66 431.18,133.16 429.88,134.66 431.83,134.29 432.48,136.16 433.13,134.29 435.08,134.66 433.78,133.16 435.08,131.66 433.13,132.04" fill="#1a1a1a"/>
<polygon points="444.24,114.74 443.59,116.61 441.64,116.24 442.94,117.74 441.64,119.24 443.59,118.86 444.24,120.74 444.89,118.86 446.84,119.24 445.54,117.74 446.84,116.24 444.89,116.61" fill="#1a1a1a"/>
<polygon points="444.24,130.16 443.59,132.04 441.64,131.66 442.94,133.16 441.64,134.66 443.59,134.29 444.24,136.16 444.89,134.29 446.84,134.66 445.54,133.16 446.84,131.66 444.89,132.04" fill="#1a1a1a"/>
<polygon points="456.00,111.05 455.35,112.92 453.40,112.55 454.70,114.05 453.40,115.55 455.35,115.17 456.00,117.05 456.65,115.17 458.60,115.55 457.30,114.05 458.60,112.55 456.65,112.92" fill="#1a1a1a"/>
<polygon points="456.00,125.36 455.35,127.23 453.40,126.86 454.70,128.36 453.40,129.86 455.35,129.48 456.00,131.36 456.65,129.48 458.60,129.86 457.30,128.36 458.60,126.86 456.65,127.23" fill="#1a1a1a"/>
<polygon points="479.52,106.35 478.87,108.22 476.92,107.85 478.22,109.35 476.92,110.85 478.87,110.48 479.52,112.35 480.17,110.48 482.12,110.85 480.82,109.35 482.12,107.85 480.17,108.22" fill="#1a1a1a"/>
<polygon points="479.52,125.36 478.87,127.23 476.92,126.86 478.22,128.36 476.92,129.86 478.87,129.48 479.52,131.36 480.17,129.48 482.12,129.86 480.82,128.36 482.12,126.86 480.17,127.23" fill="#1a1a1a"/>
<polygon points="491.28,101.32 490.63,103.19 488.68,102.82 489.98,104.32 488.68,105.82 490.63,105.44 491.28,107.32 491.93,105.44 493.88,105.82 492.58,104.32 493.88,102.82 491.93,103.19" fill="#1a1a1a"/>
<polygon points="491.28,121.22 490.63,123.09 488.68,122.72 489.98,124.22 488.68,125.72 490.63,125.35 491.28,127.22 491.93,125.35 493.88,125.72 492.58,124.22 493.88,122.72 491.93,123.09" fill="#1a1a1a"/>
<text x="367.8" y="148.4" font-size="6.8" text-anchor="middle" fill="#333" stroke="#333" stroke-width="0.24">0</text>
<text x="397.2" y="148.4" font-size="6.8" text-anchor="middle" fill="#333" stroke="#333" stroke-width="0.24">5</text>
<text x="426.6" y="148.4" font-size="6.8" text-anchor="middle" fill="#333" stroke="#333" stroke-width="0.24">10</text>
<text x="456.0" y="148.4" font-size="6.8" text-anchor="middle" fill="#333" stroke="#333" stroke-width="0.24">15</text>
<text x="485.4" y="148.4" font-size="6.8" text-anchor="middle" fill="#333" stroke="#333" stroke-width="0.24">20</text>
<text x="514.8" y="148.4" font-size="6.8" text-anchor="middle" fill="#333" stroke="#333" stroke-width="0.24">25</text>
<text x="412.7" y="159.6" font-size="6.9" font-weight="bold" textLength="63.1" lengthAdjust="spacingAndGlyphs" fill="#1a1a1a" stroke="#1a1a1a" stroke-width="0.18">Days after injection</text>
<text x="0" y="0" font-size="6.4" font-weight="bold" fill="#1a1a1a" text-anchor="middle" transform="translate(341.7 83.7) rotate(-90)" textLength="72.7" lengthAdjust="spacingAndGlyphs">% Tumor size remaining</text>
<line x1="368.7" y1="29.0" x2="380.3" y2="29.0" stroke="#4f7fc0" stroke-width="1.1"/>
<path d="M374.3 26.8L376.5 29.0L374.3 31.2L372.1 29.0Z" fill="#4f7fc0"/>
<text x="381.2" y="31.0" font-size="5.6" fill="#444" stroke="#444" stroke-width="0.12">PSMA-1-Pc413 (control)</text>
<line x1="368.7" y1="41.05" x2="380.3" y2="41.05" stroke="#c0504d" stroke-width="1.1"/>
<rect x="372.45" y="39.199999999999996" width="3.7" height="3.7" fill="#c0504d"/>
<text x="381.2" y="43.05" font-size="5.6" fill="#444" stroke="#444" stroke-width="0.12">PSMA-1-Pc413 (0.10 mg/kg)</text>
<line x1="368.7" y1="53.1" x2="380.3" y2="53.1" stroke="#9bbb59" stroke-width="1.1"/>
<path d="M374.3 50.9L376.5 54.86L372.1 54.86Z" fill="#9bbb59"/>
<text x="381.2" y="55.1" font-size="5.6" fill="#444" stroke="#444" stroke-width="0.12">PSMA-1-Pc413 (0.25 mg/kg)</text>
<line x1="368.7" y1="65.15" x2="380.3" y2="65.15" stroke="#8064a2" stroke-width="1.1"/>
<path d="M372.8 63.650000000000006L375.8 66.65M372.8 66.65L375.8 63.650000000000006" stroke="#8064a2" stroke-width="0.8"/>
<text x="381.2" y="67.15" font-size="5.6" fill="#444" stroke="#444" stroke-width="0.12">PSMA-1-Pc413 (0.5 mg/kg)</text>
<path d="M371.5 160.6L371.5 147.2M368.1 152.79999999999998L371.5 147.2L374.9 152.79999999999998" fill="none" stroke="#c84d55" stroke-width="1.5"/>
<text x="325.6" y="187.9" font-size="12.6" font-weight="bold" fill="#111" stroke="#111" stroke-width="0.18">F</text>
<text x="342.6" y="184.3" font-size="8" font-weight="bold" fill="#1a1a1a" textLength="139" lengthAdjust="spacingAndGlyphs">PSMA-1-IR700 PDT treatment <tspan font-style="italic">in vivo</tspan></text>
<line x1="366.8" y1="198.46000000000004" x2="366.8" y2="319.1" stroke="#c8c8c8" stroke-width="0.6"/>
<line x1="366.8" y1="319.1" x2="515.8" y2="319.1" stroke="#c8c8c8" stroke-width="0.6"/>
<text x="362.0" y="321.5" font-size="6.8" text-anchor="end" fill="#333" stroke="#333" stroke-width="0.24">0</text>
<line x1="365.3" y1="319.1" x2="366.8" y2="319.1" stroke="#c8c8c8" stroke-width="0.6"/>
<text x="362.0" y="306.42" font-size="6.8" text-anchor="end" fill="#333" stroke="#333" stroke-width="0.24">100</text>
<line x1="365.3" y1="304.02000000000004" x2="366.8" y2="304.02000000000004" stroke="#c8c8c8" stroke-width="0.6"/>
<text x="362.0" y="291.34" font-size="6.8" text-anchor="end" fill="#333" stroke="#333" stroke-width="0.24">200</text>
<line x1="365.3" y1="288.94000000000005" x2="366.8" y2="288.94000000000005" stroke="#c8c8c8" stroke-width="0.6"/>
<text x="362.0" y="276.26" font-size="6.8" text-anchor="end" fill="#333" stroke="#333" stroke-width="0.24">300</text>
<line x1="365.3" y1="273.86" x2="366.8" y2="273.86" stroke="#c8c8c8" stroke-width="0.6"/>
<text x="362.0" y="261.18" font-size="6.8" text-anchor="end" fill="#333" stroke="#333" stroke-width="0.24">400</text>
<line x1="365.3" y1="258.78000000000003" x2="366.8" y2="258.78000000000003" stroke="#c8c8c8" stroke-width="0.6"/>
<text x="362.0" y="246.1" font-size="6.8" text-anchor="end" fill="#333" stroke="#333" stroke-width="0.24">500</text>
<line x1="365.3" y1="243.70000000000005" x2="366.8" y2="243.70000000000005" stroke="#c8c8c8" stroke-width="0.6"/>
<text x="362.0" y="231.02" font-size="6.8" text-anchor="end" fill="#333" stroke="#333" stroke-width="0.24">600</text>
<line x1="365.3" y1="228.62000000000003" x2="366.8" y2="228.62000000000003" stroke="#c8c8c8" stroke-width="0.6"/>
<text x="362.0" y="215.94" font-size="6.8" text-anchor="end" fill="#333" stroke="#333" stroke-width="0.24">700</text>
<line x1="365.3" y1="213.54000000000002" x2="366.8" y2="213.54000000000002" stroke="#c8c8c8" stroke-width="0.6"/>
<text x="362.0" y="200.86" font-size="6.8" text-anchor="end" fill="#333" stroke="#333" stroke-width="0.24">800</text>
<line x1="365.3" y1="198.46000000000004" x2="366.8" y2="198.46000000000004" stroke="#c8c8c8" stroke-width="0.6"/>
<line x1="372.76" y1="301.46" x2="372.76" y2="302.96" stroke="#888" stroke-width="0.5"/>
<line x1="371.76" y1="301.46" x2="373.76" y2="301.46" stroke="#888" stroke-width="0.5"/>
<line x1="371.76" y1="302.96" x2="373.76" y2="302.96" stroke="#888" stroke-width="0.5"/>
<line x1="384.68" y1="298.59" x2="384.68" y2="301.00" stroke="#888" stroke-width="0.5"/>
<line x1="383.68" y1="298.59" x2="385.68" y2="298.59" stroke="#888" stroke-width="0.5"/>
<line x1="383.68" y1="301.00" x2="385.68" y2="301.00" stroke="#888" stroke-width="0.5"/>
<line x1="396.60" y1="294.97" x2="396.60" y2="297.99" stroke="#888" stroke-width="0.5"/>
<line x1="395.60" y1="294.97" x2="397.60" y2="294.97" stroke="#888" stroke-width="0.5"/>
<line x1="395.60" y1="297.99" x2="397.60" y2="297.99" stroke="#888" stroke-width="0.5"/>
<line x1="408.52" y1="293.92" x2="408.52" y2="296.93" stroke="#888" stroke-width="0.5"/>
<line x1="407.52" y1="293.92" x2="409.52" y2="293.92" stroke="#888" stroke-width="0.5"/>
<line x1="407.52" y1="296.93" x2="409.52" y2="296.93" stroke="#888" stroke-width="0.5"/>
<line x1="420.44" y1="284.87" x2="420.44" y2="290.90" stroke="#888" stroke-width="0.5"/>
<line x1="419.44" y1="284.87" x2="421.44" y2="284.87" stroke="#888" stroke-width="0.5"/>
<line x1="419.44" y1="290.90" x2="421.44" y2="290.90" stroke="#888" stroke-width="0.5"/>
<line x1="432.36" y1="277.93" x2="432.36" y2="288.49" stroke="#888" stroke-width="0.5"/>
<line x1="431.36" y1="277.93" x2="433.36" y2="277.93" stroke="#888" stroke-width="0.5"/>
<line x1="431.36" y1="288.49" x2="433.36" y2="288.49" stroke="#888" stroke-width="0.5"/>
<line x1="444.28" y1="263.76" x2="444.28" y2="271.30" stroke="#888" stroke-width="0.5"/>
<line x1="443.28" y1="263.76" x2="445.28" y2="263.76" stroke="#888" stroke-width="0.5"/>
<line x1="443.28" y1="271.30" x2="445.28" y2="271.30" stroke="#888" stroke-width="0.5"/>
<line x1="456.20" y1="256.82" x2="456.20" y2="265.87" stroke="#888" stroke-width="0.5"/>
<line x1="455.20" y1="256.82" x2="457.20" y2="256.82" stroke="#888" stroke-width="0.5"/>
<line x1="455.20" y1="265.87" x2="457.20" y2="265.87" stroke="#888" stroke-width="0.5"/>
<line x1="468.12" y1="244.00" x2="468.12" y2="256.07" stroke="#888" stroke-width="0.5"/>
<line x1="467.12" y1="244.00" x2="469.12" y2="244.00" stroke="#888" stroke-width="0.5"/>
<line x1="467.12" y1="256.07" x2="469.12" y2="256.07" stroke="#888" stroke-width="0.5"/>
<line x1="480.04" y1="231.94" x2="480.04" y2="242.49" stroke="#888" stroke-width="0.5"/>
<line x1="479.04" y1="231.94" x2="481.04" y2="231.94" stroke="#888" stroke-width="0.5"/>
<line x1="479.04" y1="242.49" x2="481.04" y2="242.49" stroke="#888" stroke-width="0.5"/>
<line x1="491.96" y1="213.24" x2="491.96" y2="228.32" stroke="#888" stroke-width="0.5"/>
<line x1="490.96" y1="213.24" x2="492.96" y2="213.24" stroke="#888" stroke-width="0.5"/>
<line x1="490.96" y1="228.32" x2="492.96" y2="228.32" stroke="#888" stroke-width="0.5"/>
<path d="M366.80 304.02C367.79 303.72 369.78 302.91 372.76 302.21C375.74 301.51 380.71 300.75 384.68 299.80C388.65 298.84 392.63 297.21 396.60 296.48C400.57 295.75 404.55 296.86 408.52 295.42C412.49 293.99 416.47 289.92 420.44 287.88C424.41 285.85 428.39 286.60 432.36 283.21C436.33 279.82 440.31 271.17 444.28 267.53C448.25 263.88 452.23 264.26 456.20 261.34C460.17 258.43 464.15 254.05 468.12 250.03C472.09 246.01 476.07 242.09 480.04 237.22C484.01 232.34 489.97 223.52 491.96 220.78" fill="none" stroke="#4f7fc0" stroke-width="1.35"/>
<path d="M366.8 301.82000000000005L369.0 304.02000000000004L366.8 306.22L364.6 304.02000000000004Z" fill="#4f7fc0"/>
<path d="M372.76 300.01040000000006L374.96 302.21040000000005L372.76 304.41040000000004L370.56 302.21040000000005Z" fill="#4f7fc0"/>
<path d="M384.68 297.59760000000006L386.88 299.79760000000005L384.68 301.99760000000003L382.48 299.79760000000005Z" fill="#4f7fc0"/>
<path d="M396.6 294.28000000000003L398.8 296.48L396.6 298.68L394.40000000000003 296.48Z" fill="#4f7fc0"/>
<path d="M408.52 293.22440000000006L410.71999999999997 295.42440000000005L408.52 297.62440000000004L406.32 295.42440000000005Z" fill="#4f7fc0"/>
<path d="M420.44 285.68440000000004L422.64 287.8844L420.44 290.0844L418.24 287.8844Z" fill="#4f7fc0"/>
<path d="M432.36 281.00960000000003L434.56 283.2096L432.36 285.4096L430.16 283.2096Z" fill="#4f7fc0"/>
<path d="M444.28000000000003 265.32640000000004L446.48 267.5264L444.28000000000003 269.7264L442.08000000000004 267.5264Z" fill="#4f7fc0"/>
<path d="M456.20000000000005 259.14360000000005L458.40000000000003 261.34360000000004L456.20000000000005 263.5436L454.00000000000006 261.34360000000004Z" fill="#4f7fc0"/>
<path d="M468.12 247.83360000000005L470.32 250.03360000000004L468.12 252.23360000000002L465.92 250.03360000000004Z" fill="#4f7fc0"/>
<path d="M480.04 235.01560000000003L482.24 237.21560000000002L480.04 239.4156L477.84000000000003 237.21560000000002Z" fill="#4f7fc0"/>
<path d="M491.96000000000004 218.57840000000004L494.16 220.77840000000003L491.96000000000004 222.97840000000002L489.76000000000005 220.77840000000003Z" fill="#4f7fc0"/>
<line x1="372.76" y1="302.21" x2="372.76" y2="303.72" stroke="#888" stroke-width="0.5"/>
<line x1="371.76" y1="302.21" x2="373.76" y2="302.21" stroke="#888" stroke-width="0.5"/>
<line x1="371.76" y1="303.72" x2="373.76" y2="303.72" stroke="#888" stroke-width="0.5"/>
<line x1="384.68" y1="305.38" x2="384.68" y2="307.79" stroke="#888" stroke-width="0.5"/>
<line x1="383.68" y1="305.38" x2="385.68" y2="305.38" stroke="#888" stroke-width="0.5"/>
<line x1="383.68" y1="307.79" x2="385.68" y2="307.79" stroke="#888" stroke-width="0.5"/>
<line x1="396.60" y1="301.46" x2="396.60" y2="304.47" stroke="#888" stroke-width="0.5"/>
<line x1="395.60" y1="301.46" x2="397.60" y2="301.46" stroke="#888" stroke-width="0.5"/>
<line x1="395.60" y1="304.47" x2="397.60" y2="304.47" stroke="#888" stroke-width="0.5"/>
<line x1="408.52" y1="301.00" x2="408.52" y2="307.04" stroke="#888" stroke-width="0.5"/>
<line x1="407.52" y1="301.00" x2="409.52" y2="301.00" stroke="#888" stroke-width="0.5"/>
<line x1="407.52" y1="307.04" x2="409.52" y2="307.04" stroke="#888" stroke-width="0.5"/>
<line x1="420.44" y1="298.74" x2="420.44" y2="304.77" stroke="#888" stroke-width="0.5"/>
<line x1="419.44" y1="298.74" x2="421.44" y2="298.74" stroke="#888" stroke-width="0.5"/>
<line x1="419.44" y1="304.77" x2="421.44" y2="304.77" stroke="#888" stroke-width="0.5"/>
<line x1="432.36" y1="303.12" x2="432.36" y2="312.16" stroke="#888" stroke-width="0.5"/>
<line x1="431.36" y1="303.12" x2="433.36" y2="303.12" stroke="#888" stroke-width="0.5"/>
<line x1="431.36" y1="312.16" x2="433.36" y2="312.16" stroke="#888" stroke-width="0.5"/>
<line x1="444.28" y1="301.76" x2="444.28" y2="310.81" stroke="#888" stroke-width="0.5"/>
<line x1="443.28" y1="301.76" x2="445.28" y2="301.76" stroke="#888" stroke-width="0.5"/>
<line x1="443.28" y1="310.81" x2="445.28" y2="310.81" stroke="#888" stroke-width="0.5"/>
<line x1="456.20" y1="296.33" x2="456.20" y2="308.39" stroke="#888" stroke-width="0.5"/>
<line x1="455.20" y1="296.33" x2="457.20" y2="296.33" stroke="#888" stroke-width="0.5"/>
<line x1="455.20" y1="308.39" x2="457.20" y2="308.39" stroke="#888" stroke-width="0.5"/>
<line x1="468.12" y1="294.07" x2="468.12" y2="304.62" stroke="#888" stroke-width="0.5"/>
<line x1="467.12" y1="294.07" x2="469.12" y2="294.07" stroke="#888" stroke-width="0.5"/>
<line x1="467.12" y1="304.62" x2="469.12" y2="304.62" stroke="#888" stroke-width="0.5"/>
<line x1="480.04" y1="286.07" x2="480.04" y2="304.17" stroke="#888" stroke-width="0.5"/>
<line x1="479.04" y1="286.07" x2="481.04" y2="286.07" stroke="#888" stroke-width="0.5"/>
<line x1="479.04" y1="304.17" x2="481.04" y2="304.17" stroke="#888" stroke-width="0.5"/>
<line x1="491.96" y1="281.25" x2="491.96" y2="299.35" stroke="#888" stroke-width="0.5"/>
<line x1="490.96" y1="281.25" x2="492.96" y2="281.25" stroke="#888" stroke-width="0.5"/>
<line x1="490.96" y1="299.35" x2="492.96" y2="299.35" stroke="#888" stroke-width="0.5"/>
<path d="M366.80 304.02C367.79 303.84 369.78 302.54 372.76 302.96C375.74 303.39 380.71 306.58 384.68 306.58C388.65 306.58 392.63 303.39 396.60 302.96C400.57 302.54 404.55 304.22 408.52 304.02C412.49 303.82 416.47 301.15 420.44 301.76C424.41 302.36 428.39 306.89 432.36 307.64C436.33 308.39 440.31 307.16 444.28 306.28C448.25 305.40 452.23 303.52 456.20 302.36C460.17 301.21 464.15 300.55 468.12 299.35C472.09 298.14 476.07 296.63 480.04 295.12C484.01 293.61 489.97 291.10 491.96 290.30" fill="none" stroke="#c0504d" stroke-width="1.35"/>
<rect x="364.95" y="302.17" width="3.7" height="3.7" fill="#c0504d"/>
<rect x="370.90999999999997" y="301.1144" width="3.7" height="3.7" fill="#c0504d"/>
<rect x="382.83" y="304.7336" width="3.7" height="3.7" fill="#c0504d"/>
<rect x="394.75" y="301.1144" width="3.7" height="3.7" fill="#c0504d"/>
<rect x="406.66999999999996" y="302.17" width="3.7" height="3.7" fill="#c0504d"/>
<rect x="418.59" y="299.908" width="3.7" height="3.7" fill="#c0504d"/>
<rect x="430.51" y="305.7892" width="3.7" height="3.7" fill="#c0504d"/>
<rect x="442.43" y="304.432" width="3.7" height="3.7" fill="#c0504d"/>
<rect x="454.35" y="300.51120000000003" width="3.7" height="3.7" fill="#c0504d"/>
<rect x="466.27" y="297.4952" width="3.7" height="3.7" fill="#c0504d"/>
<rect x="478.19" y="293.2728" width="3.7" height="3.7" fill="#c0504d"/>
<rect x="490.11" y="288.4472" width="3.7" height="3.7" fill="#c0504d"/>
<line x1="372.76" y1="299.50" x2="372.76" y2="301.00" stroke="#888" stroke-width="0.5"/>
<line x1="371.76" y1="299.50" x2="373.76" y2="299.50" stroke="#888" stroke-width="0.5"/>
<line x1="371.76" y1="301.00" x2="373.76" y2="301.00" stroke="#888" stroke-width="0.5"/>
<line x1="384.68" y1="305.53" x2="384.68" y2="307.94" stroke="#888" stroke-width="0.5"/>
<line x1="383.68" y1="305.53" x2="385.68" y2="305.53" stroke="#888" stroke-width="0.5"/>
<line x1="383.68" y1="307.94" x2="385.68" y2="307.94" stroke="#888" stroke-width="0.5"/>
<line x1="396.60" y1="296.63" x2="396.60" y2="299.65" stroke="#888" stroke-width="0.5"/>
<line x1="395.60" y1="296.63" x2="397.60" y2="296.63" stroke="#888" stroke-width="0.5"/>
<line x1="395.60" y1="299.65" x2="397.60" y2="299.65" stroke="#888" stroke-width="0.5"/>
<line x1="408.52" y1="307.94" x2="408.52" y2="312.46" stroke="#888" stroke-width="0.5"/>
<line x1="407.52" y1="307.94" x2="409.52" y2="307.94" stroke="#888" stroke-width="0.5"/>
<line x1="407.52" y1="312.46" x2="409.52" y2="312.46" stroke="#888" stroke-width="0.5"/>
<line x1="420.44" y1="303.87" x2="420.44" y2="309.90" stroke="#888" stroke-width="0.5"/>
<line x1="419.44" y1="303.87" x2="421.44" y2="303.87" stroke="#888" stroke-width="0.5"/>
<line x1="419.44" y1="309.90" x2="421.44" y2="309.90" stroke="#888" stroke-width="0.5"/>
<line x1="432.36" y1="313.07" x2="432.36" y2="317.59" stroke="#888" stroke-width="0.5"/>
<line x1="431.36" y1="313.07" x2="433.36" y2="313.07" stroke="#888" stroke-width="0.5"/>
<line x1="431.36" y1="317.59" x2="433.36" y2="317.59" stroke="#888" stroke-width="0.5"/>
<line x1="444.28" y1="314.43" x2="444.28" y2="317.44" stroke="#888" stroke-width="0.5"/>
<line x1="443.28" y1="314.43" x2="445.28" y2="314.43" stroke="#888" stroke-width="0.5"/>
<line x1="443.28" y1="317.44" x2="445.28" y2="317.44" stroke="#888" stroke-width="0.5"/>
<line x1="456.20" y1="310.81" x2="456.20" y2="316.84" stroke="#888" stroke-width="0.5"/>
<line x1="455.20" y1="310.81" x2="457.20" y2="310.81" stroke="#888" stroke-width="0.5"/>
<line x1="455.20" y1="316.84" x2="457.20" y2="316.84" stroke="#888" stroke-width="0.5"/>
<line x1="468.12" y1="310.81" x2="468.12" y2="316.84" stroke="#888" stroke-width="0.5"/>
<line x1="467.12" y1="310.81" x2="469.12" y2="310.81" stroke="#888" stroke-width="0.5"/>
<line x1="467.12" y1="316.84" x2="469.12" y2="316.84" stroke="#888" stroke-width="0.5"/>
<line x1="480.04" y1="304.47" x2="480.04" y2="316.54" stroke="#888" stroke-width="0.5"/>
<line x1="479.04" y1="304.47" x2="481.04" y2="304.47" stroke="#888" stroke-width="0.5"/>
<line x1="479.04" y1="316.54" x2="481.04" y2="316.54" stroke="#888" stroke-width="0.5"/>
<line x1="491.96" y1="300.10" x2="491.96" y2="315.18" stroke="#888" stroke-width="0.5"/>
<line x1="490.96" y1="300.10" x2="492.96" y2="300.10" stroke="#888" stroke-width="0.5"/>
<line x1="490.96" y1="315.18" x2="492.96" y2="315.18" stroke="#888" stroke-width="0.5"/>
<path d="M366.80 304.02C367.79 303.39 369.78 299.80 372.76 300.25C375.74 300.70 380.71 307.09 384.68 306.73C388.65 306.38 392.63 297.56 396.60 298.14C400.57 298.72 404.55 308.75 408.52 310.20C412.49 311.66 416.47 306.03 420.44 306.89C424.41 307.74 428.39 313.82 432.36 315.33C436.33 316.84 440.31 316.18 444.28 315.93C448.25 315.68 452.23 314.17 456.20 313.82C460.17 313.47 464.15 314.37 468.12 313.82C472.09 313.27 476.07 311.53 480.04 310.50C484.01 309.47 489.97 308.12 491.96 307.64" fill="none" stroke="#9bbb59" stroke-width="1.35"/>
<path d="M366.8 301.82000000000005L369.0 305.78000000000003L364.6 305.78000000000003Z" fill="#9bbb59"/>
<path d="M372.76 298.05L374.96 302.01L370.56 302.01Z" fill="#9bbb59"/>
<path d="M384.68 304.53440000000006L386.88 308.49440000000004L382.48 308.49440000000004Z" fill="#9bbb59"/>
<path d="M396.6 295.9388L398.8 299.8988L394.40000000000003 299.8988Z" fill="#9bbb59"/>
<path d="M408.52 308.00280000000004L410.71999999999997 311.9628L406.32 311.9628Z" fill="#9bbb59"/>
<path d="M420.44 304.6852L422.64 308.6452L418.24 308.6452Z" fill="#9bbb59"/>
<path d="M432.36 313.13000000000005L434.56 317.09000000000003L430.16 317.09000000000003Z" fill="#9bbb59"/>
<path d="M444.28000000000003 313.7332L446.48 317.6932L442.08000000000004 317.6932Z" fill="#9bbb59"/>
<path d="M456.20000000000005 311.622L458.40000000000003 315.582L454.00000000000006 315.582Z" fill="#9bbb59"/>
<path d="M468.12 311.622L470.32 315.582L465.92 315.582Z" fill="#9bbb59"/>
<path d="M480.04 308.30440000000004L482.24 312.2644L477.84000000000003 312.2644Z" fill="#9bbb59"/>
<path d="M491.96000000000004 305.4392L494.16 309.3992L489.76000000000005 309.3992Z" fill="#9bbb59"/>
<polygon points="408.52,298.00 407.87,299.88 405.92,299.50 407.22,301.00 405.92,302.50 407.87,302.13 408.52,304.00 409.17,302.13 411.12,302.50 409.82,301.00 411.12,299.50 409.17,299.88" fill="#1a1a1a"/>
<polygon points="408.52,307.35 407.87,309.23 405.92,308.85 407.22,310.35 405.92,311.85 407.87,311.48 408.52,313.35 409.17,311.48 411.12,311.85 409.82,310.35 411.12,308.85 409.17,309.23" fill="#1a1a1a"/>
<polygon points="420.44,293.18 419.79,295.05 417.84,294.68 419.14,296.18 417.84,297.68 419.79,297.30 420.44,299.18 421.09,297.30 423.04,297.68 421.74,296.18 423.04,294.68 421.09,295.05" fill="#1a1a1a"/>
<polygon points="420.44,304.49 419.79,306.36 417.84,305.99 419.14,307.49 417.84,308.99 419.79,308.61 420.44,310.49 421.09,308.61 423.04,308.99 421.74,307.49 423.04,305.99 421.09,306.36" fill="#1a1a1a"/>
<polygon points="432.36,298.76 431.71,300.63 429.76,300.26 431.06,301.76 429.76,303.26 431.71,302.88 432.36,304.76 433.01,302.88 434.96,303.26 433.66,301.76 434.96,300.26 433.01,300.63" fill="#1a1a1a"/>
<polygon points="432.36,307.35 431.71,309.23 429.76,308.85 431.06,310.35 429.76,311.85 431.71,311.48 432.36,313.35 433.01,311.48 434.96,311.85 433.66,310.35 434.96,308.85 433.01,309.23" fill="#1a1a1a"/>
<polygon points="444.28,294.23 443.63,296.11 441.68,295.73 442.98,297.23 441.68,298.73 443.63,298.36 444.28,300.23 444.93,298.36 446.88,298.73 445.58,297.23 446.88,295.73 444.93,296.11" fill="#1a1a1a"/>
<polygon points="444.28,307.35 443.63,309.23 441.68,308.85 442.98,310.35 441.68,311.85 443.63,311.48 444.28,313.35 444.93,311.48 446.88,311.85 445.58,310.35 446.88,308.85 444.93,309.23" fill="#1a1a1a"/>
<polygon points="456.20,288.96 455.55,290.83 453.60,290.46 454.90,291.96 453.60,293.46 455.55,293.08 456.20,294.96 456.85,293.08 458.80,293.46 457.50,291.96 458.80,290.46 456.85,290.83" fill="#1a1a1a"/>
<polygon points="456.20,307.35 455.55,309.23 453.60,308.85 454.90,310.35 453.60,311.85 455.55,311.48 456.20,313.35 456.85,311.48 458.80,311.85 457.50,310.35 458.80,308.85 456.85,309.23" fill="#1a1a1a"/>
<polygon points="468.12,288.65 467.47,290.53 465.52,290.15 466.82,291.65 465.52,293.15 467.47,292.78 468.12,294.65 468.77,292.78 470.72,293.15 469.42,291.65 470.72,290.15 468.77,290.53" fill="#1a1a1a"/>
<polygon points="468.12,303.28 467.47,305.16 465.52,304.78 466.82,306.28 465.52,307.78 467.47,307.41 468.12,309.28 468.77,307.41 470.72,307.78 469.42,306.28 470.72,304.78 468.77,305.16" fill="#1a1a1a"/>
<polygon points="480.04,279.46 479.39,281.33 477.44,280.96 478.74,282.46 477.44,283.96 479.39,283.58 480.04,285.46 480.69,283.58 482.64,283.96 481.34,282.46 482.64,280.96 480.69,281.33" fill="#1a1a1a"/>
<polygon points="480.04,302.68 479.39,304.55 477.44,304.18 478.74,305.68 477.44,307.18 479.39,306.80 480.04,308.68 480.69,306.80 482.64,307.18 481.34,305.68 482.64,304.18 480.69,304.55" fill="#1a1a1a"/>
<polygon points="491.96,278.70 491.31,280.58 489.36,280.20 490.66,281.70 489.36,283.20 491.31,282.83 491.96,284.70 492.61,282.83 494.56,283.20 493.26,281.70 494.56,280.20 492.61,280.58" fill="#1a1a1a"/>
<polygon points="491.96,298.00 491.31,299.88 489.36,299.50 490.66,301.00 489.36,302.50 491.31,302.13 491.96,304.00 492.61,302.13 494.56,302.50 493.26,301.00 494.56,299.50 492.61,299.88" fill="#1a1a1a"/>
<text x="366.8" y="328.7" font-size="6.8" text-anchor="middle" fill="#333" stroke="#333" stroke-width="0.24">0</text>
<text x="396.6" y="328.7" font-size="6.8" text-anchor="middle" fill="#333" stroke="#333" stroke-width="0.24">5</text>
<text x="426.4" y="328.7" font-size="6.8" text-anchor="middle" fill="#333" stroke="#333" stroke-width="0.24">10</text>
<text x="456.2" y="328.7" font-size="6.8" text-anchor="middle" fill="#333" stroke="#333" stroke-width="0.24">15</text>
<text x="486.0" y="328.7" font-size="6.8" text-anchor="middle" fill="#333" stroke="#333" stroke-width="0.24">20</text>
<text x="515.8" y="328.7" font-size="6.8" text-anchor="middle" fill="#333" stroke="#333" stroke-width="0.24">25</text>
<text x="419.2" y="339.2" font-size="6.9" font-weight="bold" textLength="62.0" lengthAdjust="spacingAndGlyphs" fill="#1a1a1a" stroke="#1a1a1a" stroke-width="0.18">Days after injection</text>
<text x="0" y="0" font-size="6.4" font-weight="bold" fill="#1a1a1a" text-anchor="middle" transform="translate(346.5 256) rotate(-90)" textLength="76" lengthAdjust="spacingAndGlyphs">% Tumor size remaining</text>
<line x1="367.3" y1="208.5" x2="376.6" y2="208.5" stroke="#4f7fc0" stroke-width="1.1"/>
<path d="M372 206.3L374.2 208.5L372 210.7L369.8 208.5Z" fill="#4f7fc0"/>
<text x="378.7" y="210.5" font-size="5.6" fill="#444" stroke="#444" stroke-width="0.12">PSMA-1-IR700 (control)</text>
<line x1="367.3" y1="218.4" x2="376.6" y2="218.4" stroke="#c0504d" stroke-width="1.1"/>
<rect x="370.15" y="216.55" width="3.7" height="3.7" fill="#c0504d"/>
<text x="378.7" y="220.4" font-size="5.6" fill="#444" stroke="#444" stroke-width="0.12">PSMA-1-IR700 (0.25 mg/kg)</text>
<line x1="367.3" y1="228.3" x2="376.6" y2="228.3" stroke="#9bbb59" stroke-width="1.1"/>
<path d="M372 226.10000000000002L374.2 230.06L369.8 230.06Z" fill="#9bbb59"/>
<text x="378.7" y="230.3" font-size="5.6" fill="#444" stroke="#444" stroke-width="0.12">PSMA-1-IR700 (0.5 mg/kg)</text>
<path d="M366.8 345L366.8 329.90000000000003M363.40000000000003 335.5L366.8 329.90000000000003L370.2 335.5" fill="none" stroke="#c84d55" stroke-width="1.5"/>
<path d="M390.7 345L390.7 329.90000000000003M387.3 335.5L390.7 329.90000000000003L394.09999999999997 335.5" fill="none" stroke="#c84d55" stroke-width="1.5"/>
<path d="M414.2 345L414.2 329.90000000000003M410.8 335.5L414.2 329.90000000000003L417.59999999999997 335.5" fill="none" stroke="#c84d55" stroke-width="1.5"/>
<text x="196.0" y="12.5" font-size="13" font-weight="bold" fill="#111" stroke="#111" stroke-width="0.18">B</text>
<text x="212.0" y="11.4" font-size="8" font-weight="bold" textLength="92.0" lengthAdjust="spacingAndGlyphs" fill="#1a1a1a" stroke="#1a1a1a" stroke-width="0.18">Loss of signal in PC3pip</text>
<text x="212.0" y="20.8" font-size="8" font-weight="bold" textLength="99.6" lengthAdjust="spacingAndGlyphs" fill="#1a1a1a" stroke="#1a1a1a" stroke-width="0.18">tumor after PSMA-1-Pc413</text>
<text x="212.0" y="30.3" font-size="8" font-weight="bold" textLength="53.7" lengthAdjust="spacingAndGlyphs" fill="#1a1a1a" stroke="#1a1a1a" stroke-width="0.18">PDT treatment</text>
<text x="227.3" y="42.0" font-size="7" textLength="37.5" lengthAdjust="spacingAndGlyphs" fill="#444" stroke="#444" stroke-width="0.24">Before PDT</text>
<text x="227.0" y="107.9" font-size="7" textLength="31.6" lengthAdjust="spacingAndGlyphs" fill="#444" stroke="#444" stroke-width="0.24">After PDT</text>
<text x="196.0" y="188.5" font-size="13" font-weight="bold" fill="#111" stroke="#111" stroke-width="0.18">E</text>
<text x="212.0" y="184.8" font-size="8" font-weight="bold" textLength="92.0" lengthAdjust="spacingAndGlyphs" fill="#1a1a1a" stroke="#1a1a1a" stroke-width="0.18">Loss of signal in PC3pip</text>
<text x="212.0" y="194.0" font-size="8" font-weight="bold" textLength="97.6" lengthAdjust="spacingAndGlyphs" fill="#1a1a1a" stroke="#1a1a1a" stroke-width="0.18">tumor after PSMA-1-IR700</text>
<text x="212.0" y="203.3" font-size="8" font-weight="bold" textLength="53.7" lengthAdjust="spacingAndGlyphs" fill="#1a1a1a" stroke="#1a1a1a" stroke-width="0.18">PDT treatment</text>
<text x="227.3" y="214.6" font-size="7" textLength="37.5" lengthAdjust="spacingAndGlyphs" fill="#444" stroke="#444" stroke-width="0.24">Before PDT</text>
<text x="227.0" y="280.6" font-size="7" textLength="31.6" lengthAdjust="spacingAndGlyphs" fill="#444" stroke="#444" stroke-width="0.24">After PDT</text>
<!-- B1 -->
<g clip-path="url(#cB1)">
<rect x="223" y="48" width="60" height="45" fill="#07070a"/>
<path filter="url(#b05)" fill="#5452d2" d="M222,57.4 C228,57.5 233,59.6 237.5,59.7 C242,59.6 246,57.6 250,56 C255,54.4 260,53.4 265,53.1 C271,53 277,53.6 284,53.8 L284,57.2 L279.5,57.2 C277.2,57.6 277,61.8 279.5,62 L284,62 L284,75.8 L280.5,75.8 C278.6,76.2 278.6,85.6 278,86.4 C274,87.6 270,88 264,87.8 C256,87.4 250,86 244,84.6 C239,83.6 235,83.6 231,84.4 C228,85 225,85.5 222,85.7 Z"/>
<path filter="url(#b1)" fill="#4284ea" d="M223,60 C229,60.3 233,62 237.5,62.2 C243,62 247,60 251,58.6 C256,57 261,56.2 266,56 C271,56 275,56.6 276.5,58.5 C275.8,61.5 276,63 278,64 L278,74.5 C276.5,76 276.2,80 275.6,84 C270,85.4 264,85.6 258,85 C252,84.2 247,82.6 242,81.8 C236,81 230,81.8 223,83 Z"/>
<ellipse filter="url(#b2)" cx="228" cy="71" rx="5.5" ry="7" fill="#46c0f6"/>
<ellipse filter="url(#b2)" cx="262" cy="66" rx="9" ry="3.2" fill="#46b4f4"/>
<ellipse filter="url(#b2)" cx="264" cy="75" rx="8" ry="4" fill="#48b0f2"/>
<ellipse filter="url(#b2)" cx="247" cy="76" rx="4" ry="3" fill="#44a8f0"/>
<ellipse filter="url(#b2)" cx="245" cy="66" rx="4" ry="2.5" fill="#4498ee"/>
<ellipse filter="url(#b2)" cx="238" cy="72" rx="2.5" ry="4" fill="#4f66dc"/>
<ellipse filter="url(#b05)" cx="265.4" cy="58.4" rx="4.3" ry="3.2" fill="#d8e060"/>
<ellipse filter="url(#b05)" cx="265.5" cy="58.3" rx="3.2" ry="2.4" fill="#f0d838"/>
<ellipse filter="url(#b05)" cx="265.6" cy="58.2" rx="1.6" ry="1.2" fill="#d88a20"/>
<path filter="url(#b05)" d="M264.3,52.6 L264.9,55.6" stroke="#c02830" stroke-width="1.3"/>
<ellipse cx="265.4" cy="58.4" rx="5" ry="4.4" fill="none" stroke="#151515" stroke-width="1" stroke-dasharray="1.2 1.3"/>
</g>
<!-- B2 -->
<g clip-path="url(#cB2)">
<rect x="223" y="110" width="60" height="45" fill="#07070a"/>
<path filter="url(#b05)" fill="#5452d2" d="M222,118.5 C230,118.8 235,120.6 240,120.8 C247,120.6 252,118.6 258,117.3 C262,116 266,114.6 270,114.2 C274,113.4 278,113 284,113 L284,118 L280.5,118 C278.2,118.5 278,123.8 280.5,124.4 L284,124.4 L284,136.6 L280,136.6 C277.8,137 277.6,143 277.6,143.8 C274,145.8 270,147.3 264,147.3 C256,147 250,146.2 244,145.9 C236,145.4 230,144.8 222,144.4 Z"/>
<path filter="url(#b1)" fill="#4288ec" d="M223,121.4 C230,121.8 235,123.4 240,123.5 C247,123.4 252,121.4 258,120 C263,118.6 267,117.2 271,116.8 C274,116.6 276,117 276.6,118.8 C276,121.5 276,124 278.2,126 L278.4,135 C276,136.6 275.8,140 275.4,142.4 C270,144.6 264,144.8 258,144.4 C250,143.8 244,143.4 238,143 C232,142.6 228,142.2 223,141.8 Z"/>
<ellipse filter="url(#b2)" cx="230" cy="133" rx="7" ry="7" fill="#48caf8"/>
<ellipse filter="url(#b2)" cx="260" cy="133" rx="12" ry="6.5" fill="#46c4f6"/>
<ellipse filter="url(#b2)" cx="240.5" cy="133" rx="2.2" ry="6" fill="#4a6ae0"/>
<ellipse filter="url(#b2)" cx="272" cy="128" rx="3" ry="4" fill="#4a8ae8"/>
<circle filter="url(#b05)" cx="261.3" cy="125.4" r="1.2" fill="#c0f0a8"/>
<circle cx="265.6" cy="121.6" r="4.2" fill="none" stroke="#b04098" stroke-width="1.2" stroke-dasharray="1.5 0.8" filter="url(#b05)"/>
</g>
<!-- E1 -->
<g clip-path="url(#cE1)">
<rect x="223" y="221" width="60" height="47" fill="#07070a"/>
<path filter="url(#b05)" fill="#2c4ce2" d="M222,231 C228,230 234,228 240,227.2 C250,226.6 260,226.8 266,227.2 C272,227.8 277,229 284,229.4 L284,232.4 L279,232.4 C277.2,232.8 277,237.8 279,238.3 L284,238.3 L284,249.5 L276,249.5 C274.3,249.8 274.3,255.8 276,256.2 L284,256.2 L284,258.6 C278,258.4 272,257.2 265,257 C258,257.2 254,258.4 248,258 C242,257.4 238,256.2 234,256.4 C230,256.8 226,258.4 222,259.4 Z"/>
<path filter="url(#b1)" fill="#30c6f0" d="M223,234 C229,233 235,230.4 241,229.4 C250,228.8 260,228.8 266,229.4 C271,230 274,230.8 276.2,231.6 C275.6,234 275.6,237.4 277,239.2 L281,239.8 L281,248.2 L274.4,248.4 C273,250.6 272.6,253.4 272.8,255 C266,255.4 260,255.6 253,256 C246,255.6 240,254.4 234,254.6 C229,255 226,256.4 223,257 Z"/>
<path filter="url(#b1)" fill="#74e060" d="M224,236 C230,235 236,232.4 242,231.6 C250,231 258,231 264,231.4 C269,231.8 272,232.8 273.6,234 L274,240.6 L278,242 L278,247 L272,247.2 C270.6,249 270.2,251.4 270,253 C264,253.6 258,253.8 252,253.8 C246,253.4 240,252.4 234,252.6 C229,253 226,254.2 224,254.6 Z"/>
<ellipse filter="url(#b2)" cx="242" cy="243.5" rx="20" ry="9.5" fill="#f0ec40"/>
<ellipse filter="url(#b2)" cx="229" cy="244" rx="5" ry="6" fill="#e8ee44"/>
<ellipse filter="url(#b1)" cx="247" cy="234.5" rx="3.4" ry="2.2" fill="#f0902c"/>
<ellipse filter="url(#b1)" cx="238.5" cy="245" rx="3.6" ry="2.6" fill="#f4a030"/>
<ellipse filter="url(#b1)" cx="251" cy="245.5" rx="4.2" ry="2.8" fill="#f08a28"/>
<ellipse filter="url(#b1)" cx="249" cy="252.6" rx="4.2" ry="2.6" fill="#f08024"/>
<ellipse filter="url(#b2)" cx="271" cy="244" rx="5" ry="3" fill="#88e858"/>
<path filter="url(#b05)" d="M223.5,233.2 C228,232.2 232,230.6 236,229.6" stroke="#b4e4ff" stroke-width="1.2" fill="none"/>
<path filter="url(#b05)" d="M275,249.3 L283,249.3" stroke="#58a8f0" stroke-width="1" fill="none"/>
<circle filter="url(#b05)" cx="269.6" cy="236.6" r="3.8" fill="#f4c034"/>
<circle filter="url(#b05)" cx="269.6" cy="236.8" r="2" fill="#f08c28"/>
<circle cx="269.6" cy="236.6" r="4.8" fill="none" stroke="#111" stroke-width="1" stroke-dasharray="1.3 1.1"/>
</g>
<!-- E2 -->
<g clip-path="url(#cE2)">
<rect x="223" y="284" width="60" height="46" fill="#07070a"/>
<path filter="url(#b05)" fill="#2c4ce2" d="M222,295.8 C228,294.4 234,292.4 240,291.5 C248,290.2 254,289 260,288.6 C266,288.4 270,288.6 273,289 L272.6,290.7 L282,290.8 L282,296.6 L272.6,296.8 L272.6,307.5 L282,307.6 L282,324.3 L272.5,324.3 C266,321.8 260,321.4 252,321.4 C244,321.2 240,320.8 234,319.2 C229,318.2 226,318.6 222,320 Z"/>
<path filter="url(#b1)" fill="#36c4ee" d="M223,298 C229,296.5 235,294.6 241,293.6 C249,292.2 255,291.2 261,291 C266,290.8 269,291 271,291.6 L271,306 L270,318 C264,319.4 258,319.4 252,319.4 C245,319.2 240,318.6 234,317 C229,316 226,316.5 223,317.5 Z"/>
<path filter="url(#b1)" fill="#7ae060" d="M225,300.5 C231,299 236,297 242,296 C249,295 253,295.5 257,296.5 C260,297.5 262,299 263,301.5 L263,312 C260,315.5 256,316.6 251,316.6 C245,316.4 240,315.6 234,314.6 C229,314 227,314 225,314.5 Z"/>
<ellipse filter="url(#b2)" cx="246.5" cy="305.5" rx="11" ry="7" fill="#f2ec40"/>
<ellipse filter="url(#b1)" cx="247.5" cy="313.3" rx="3.6" ry="2.4" fill="#f4d036"/>
<ellipse filter="url(#b05)" cx="243.9" cy="297.3" rx="2.6" ry="2" fill="#f0d040"/>
<circle filter="url(#b05)" cx="243.9" cy="297.3" r="1.2" fill="#c83018"/>
<ellipse cx="265.8" cy="293.7" rx="4.4" ry="3.4" fill="none" stroke="#9a48b8" stroke-width="1.1" filter="url(#b05)"/>
<ellipse filter="url(#b05)" cx="276" cy="293.4" rx="2.6" ry="1.6" fill="#c8ec60"/>
<ellipse filter="url(#b05)" cx="275.5" cy="314.8" rx="2.2" ry="1.6" fill="#c0e858"/>
<path filter="url(#b05)" d="M273,305.5 L283,305.5" stroke="#a8e060" stroke-width="1.4"/>
<path filter="url(#b05)" d="M274,324 L279,316" stroke="#6a90f0" stroke-width="1.2"/>
<path filter="url(#b05)" d="M279,292 L282.5,287" stroke="#8ab0f0" stroke-width="1.1"/>
<path filter="url(#b05)" d="M223,320 C226,318.5 229,318 233,318.5" stroke="#5a70e8" stroke-width="1.2" fill="none"/>
</g>

</svg>
</body></html>
